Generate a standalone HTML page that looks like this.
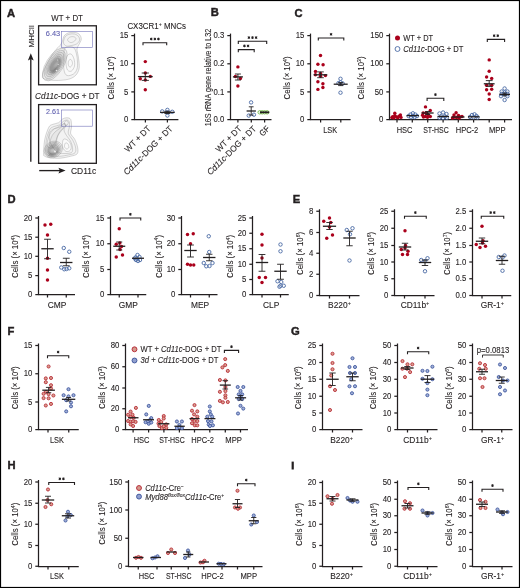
<!DOCTYPE html>
<html><head><meta charset="utf-8"><title>Figure</title>
<style>
html,body{margin:0;padding:0;background:#fff;}
body{width:520px;height:588px;overflow:hidden;}
svg{display:block;will-change:transform;filter:blur(0.3px);font-family:"Liberation Sans",sans-serif;}
text{stroke:#231f20;stroke-width:0.1px;}
</style></head><body>
<svg width="520" height="588" viewBox="0 0 520 588" fill="#231f20">
<rect x="0.5" y="0.5" width="519" height="587" fill="#fff" stroke="#000" stroke-width="1.2"/>
<text x="7.00" y="16.50" font-size="11.2" font-weight="bold" style="stroke-width:0.45px">A</text>
<text x="51.30" y="20.90" font-size="8.4" textLength="31.6" lengthAdjust="spacingAndGlyphs">WT + DT</text>
<rect x="38.6" y="25.8" width="57.75" height="59.0" fill="none" stroke="#231f20" stroke-width="1.3"/>
<rect x="38.6" y="104.6" width="57.75" height="58.7" fill="none" stroke="#231f20" stroke-width="1.3"/>
<text x="67.30" y="98.80" font-size="8.4" text-anchor="middle" textLength="64.5" lengthAdjust="spacingAndGlyphs"><tspan font-style="italic">Cd11c</tspan>-DOG + DT</text>
<defs><filter id="bl" x="-10%" y="-10%" width="120%" height="120%"><feGaussianBlur stdDeviation="0.4"/></filter><filter id="bl2" x="-30%" y="-30%" width="160%" height="160%"><feGaussianBlur stdDeviation="0.9"/></filter></defs>
<g filter="url(#bl)">
<path d="M42.40 77.00C42.23 75.67 42.65 73.33 43.50 71.00C44.35 68.67 46.08 65.67 47.50 63.00C48.92 60.33 50.58 57.25 52.00 55.00C53.42 52.75 54.67 51.08 56.00 49.50C57.33 47.92 58.92 46.92 60.00 45.50C61.08 44.08 61.83 42.58 62.50 41.00C63.17 39.42 63.08 37.33 64.00 36.00C64.92 34.67 66.33 33.62 68.00 33.00C69.67 32.38 72.17 32.13 74.00 32.30C75.83 32.47 77.78 32.88 79.00 34.00C80.22 35.12 81.30 37.25 81.30 39.00C81.30 40.75 79.72 42.83 79.00 44.50C78.28 46.17 77.17 47.25 77.00 49.00C76.83 50.75 77.67 52.83 78.00 55.00C78.33 57.17 78.83 59.67 79.00 62.00C79.17 64.33 79.50 66.83 79.00 69.00C78.50 71.17 77.50 73.37 76.00 75.00C74.50 76.63 72.50 77.92 70.00 78.80C67.50 79.68 64.17 80.07 61.00 80.30C57.83 80.53 53.75 80.42 51.00 80.20C48.25 79.98 45.93 79.53 44.50 79.00C43.07 78.47 42.57 78.33 42.40 77.00Z" fill="#f3f3f3" stroke="#8a8a8a" stroke-width="0.45" stroke-opacity="0.75"/>
<path d="M63.50 43.00C63.25 41.50 64.08 38.45 65.00 37.00C65.92 35.55 67.42 34.80 69.00 34.30C70.58 33.80 72.92 33.63 74.50 34.00C76.08 34.37 77.67 35.42 78.50 36.50C79.33 37.58 79.83 39.25 79.50 40.50C79.17 41.75 77.83 43.17 76.50 44.00C75.17 44.83 73.17 45.17 71.50 45.50C69.83 45.83 67.83 46.42 66.50 46.00C65.17 45.58 63.75 44.50 63.50 43.00Z" fill="none" stroke="#8a8a8a" stroke-width="0.45" stroke-opacity="0.75"/>
<path d="M67.50 40.00C67.42 39.08 68.92 37.53 70.00 37.00C71.08 36.47 73.00 36.50 74.00 36.80C75.00 37.10 76.00 38.02 76.00 38.80C76.00 39.58 74.92 40.88 74.00 41.50C73.08 42.12 71.58 42.75 70.50 42.50C69.42 42.25 67.58 40.92 67.50 40.00Z" fill="none" stroke="#8a8a8a" stroke-width="0.45" stroke-opacity="0.75"/>
<path d="M64.50 49.00C65.33 47.08 67.42 46.67 69.00 46.50C70.58 46.33 72.75 46.75 74.00 48.00C75.25 49.25 75.92 51.67 76.50 54.00C77.08 56.33 77.42 59.50 77.50 62.00C77.58 64.50 77.67 67.00 77.00 69.00C76.33 71.00 75.17 72.92 73.50 74.00C71.83 75.08 68.58 76.17 67.00 75.50C65.42 74.83 64.50 72.92 64.00 70.00C63.50 67.08 63.92 61.50 64.00 58.00C64.08 54.50 63.67 50.92 64.50 49.00Z" fill="#f9f9f9" stroke="#8a8a8a" stroke-width="0.45" stroke-opacity="0.75"/>
<path d="M67.00 56.00C67.83 54.50 69.83 53.50 71.00 54.00C72.17 54.50 73.42 57.00 74.00 59.00C74.58 61.00 74.92 64.00 74.50 66.00C74.08 68.00 72.67 70.33 71.50 71.00C70.33 71.67 68.42 71.33 67.50 70.00C66.58 68.67 66.08 65.33 66.00 63.00C65.92 60.67 66.17 57.50 67.00 56.00Z" fill="none" stroke="#8a8a8a" stroke-width="0.45" stroke-opacity="0.75"/>
<path d="M68.50 61.00C68.92 60.00 70.33 59.08 71.00 59.50C71.67 59.92 72.58 62.25 72.50 63.50C72.42 64.75 71.17 66.67 70.50 67.00C69.83 67.33 68.83 66.50 68.50 65.50C68.17 64.50 68.08 62.00 68.50 61.00Z" fill="none" stroke="#8a8a8a" stroke-width="0.45" stroke-opacity="0.75"/>
<ellipse cx="54.8" cy="64.5" rx="18.5" ry="8.6" transform="rotate(-58 54.8 64.5)" fill="rgba(0,0,0,0.03)" stroke="#8a8a8a" stroke-width="0.45" stroke-opacity="0.75"/>
<ellipse cx="54.8" cy="64.5" rx="16.2" ry="7.4" transform="rotate(-58 54.8 64.5)" fill="rgba(0,0,0,0.035)" stroke="#8a8a8a" stroke-width="0.45" stroke-opacity="0.75"/>
<ellipse cx="54.8" cy="64.5" rx="14" ry="6.2" transform="rotate(-58 54.8 64.5)" fill="rgba(0,0,0,0.04)" stroke="#8a8a8a" stroke-width="0.45" stroke-opacity="0.75"/>
<ellipse cx="54.8" cy="64.5" rx="11.8" ry="5.1" transform="rotate(-58 54.8 64.5)" fill="rgba(0,0,0,0.05)" stroke="#8a8a8a" stroke-width="0.45" stroke-opacity="0.75"/>
<ellipse cx="54.8" cy="64.5" rx="9.6" ry="4.1" transform="rotate(-58 54.8 64.5)" fill="rgba(0,0,0,0.06)" stroke="#8a8a8a" stroke-width="0.45" stroke-opacity="0.75"/>
<ellipse cx="54.8" cy="64.5" rx="7.6" ry="3.2" transform="rotate(-58 54.8 64.5)" fill="rgba(0,0,0,0.07)" stroke="#8a8a8a" stroke-width="0.45" stroke-opacity="0.75"/>
<ellipse cx="55.5" cy="66" rx="7.5" ry="3.0" transform="rotate(-58 55.5 66)" fill="none" stroke="#6a6a6a" stroke-width="1.3" opacity="0.75" filter="url(#bl2)"/>
<ellipse cx="54.5" cy="70" rx="3.5" ry="2" transform="rotate(-60 54.5 70)" fill="rgba(0,0,0,0.18)" filter="url(#bl2)"/>
<circle cx="56.5" cy="70.5" r="0.8" fill="#fff" opacity="0.8"/><circle cx="58.2" cy="64.5" r="0.6" fill="#fff" opacity="0.7"/><circle cx="57.6" cy="60" r="0.6" fill="#fff" opacity="0.6"/>
</g>
<g filter="url(#bl)">
<path d="M43.60 153.80C43.60 150.97 43.92 143.65 44.80 139.20C45.68 134.75 47.55 129.58 48.90 127.10C50.25 124.62 51.28 125.03 52.90 124.30C54.52 123.57 56.98 123.58 58.60 122.70C60.22 121.82 61.25 119.82 62.60 119.00C63.95 118.18 65.35 117.73 66.70 117.80C68.05 117.87 69.90 117.85 70.70 119.40C71.50 120.95 71.50 124.73 71.50 127.10C71.50 129.47 70.17 131.58 70.70 133.60C71.23 135.62 73.55 136.92 74.70 139.20C75.85 141.48 77.18 144.87 77.60 147.30C78.02 149.73 78.35 152.32 77.20 153.80C76.05 155.28 73.53 155.47 70.70 156.20C67.87 156.93 63.70 157.93 60.20 158.20C56.70 158.47 52.27 158.13 49.70 157.80C47.13 157.47 45.82 156.87 44.80 156.20C43.78 155.53 43.60 156.63 43.60 153.80Z" fill="#f3f3f3" stroke="#8a8a8a" stroke-width="0.45" stroke-opacity="0.75"/>
<path d="M45.80 152.50C45.72 150.03 45.63 143.83 46.30 140.00C46.97 136.17 48.52 131.75 49.80 129.50C51.08 127.25 52.42 127.25 54.00 126.50C55.58 125.75 57.77 125.83 59.30 125.00C60.83 124.17 61.95 122.33 63.20 121.50C64.45 120.67 65.80 119.95 66.80 120.00C67.80 120.05 68.78 120.63 69.20 121.80C69.62 122.97 69.45 125.05 69.30 127.00C69.15 128.95 67.77 131.37 68.30 133.50C68.83 135.63 71.30 137.55 72.50 139.80C73.70 142.05 75.08 144.83 75.50 147.00C75.92 149.17 76.08 151.50 75.00 152.80C73.92 154.10 71.50 154.22 69.00 154.80C66.50 155.38 63.08 156.08 60.00 156.30C56.92 156.52 52.70 156.35 50.50 156.10C48.30 155.85 47.58 155.40 46.80 154.80C46.02 154.20 45.88 154.97 45.80 152.50Z" fill="none" stroke="#8a8a8a" stroke-width="0.45" stroke-opacity="0.75"/>
<path d="M50.50 131.00C51.42 129.75 52.92 129.13 54.50 128.50C56.08 127.87 58.50 127.95 60.00 127.20C61.50 126.45 62.53 124.28 63.50 124.00C64.47 123.72 65.72 124.50 65.80 125.50C65.88 126.50 63.88 128.33 64.00 130.00C64.12 131.67 65.42 133.67 66.50 135.50C67.58 137.33 69.50 139.00 70.50 141.00C71.50 143.00 72.33 145.58 72.50 147.50C72.67 149.42 72.92 151.50 71.50 152.50C70.08 153.50 66.42 153.58 64.00 153.50C61.58 153.42 59.17 153.58 57.00 152.00C54.83 150.42 52.33 146.67 51.00 144.00C49.67 141.33 49.08 138.17 49.00 136.00C48.92 133.83 49.58 132.25 50.50 131.00Z" fill="none" stroke="#8a8a8a" stroke-width="0.45" stroke-opacity="0.75"/>
<path d="M64.50 122.50C64.72 121.75 65.87 120.85 66.50 120.80C67.13 120.75 68.17 121.50 68.30 122.20C68.43 122.90 67.82 124.48 67.30 125.00C66.78 125.52 65.67 125.72 65.20 125.30C64.73 124.88 64.28 123.25 64.50 122.50Z" fill="none" stroke="#8a8a8a" stroke-width="0.45" stroke-opacity="0.75"/>
<path d="M64.00 139.00C64.92 138.67 66.83 139.50 68.00 140.50C69.17 141.50 70.58 143.42 71.00 145.00C71.42 146.58 71.25 148.92 70.50 150.00C69.75 151.08 67.75 151.83 66.50 151.50C65.25 151.17 63.67 149.50 63.00 148.00C62.33 146.50 62.33 144.00 62.50 142.50C62.67 141.00 63.08 139.33 64.00 139.00Z" fill="#fafafa" stroke="#8a8a8a" stroke-width="0.45" stroke-opacity="0.75"/>
<path d="M65.50 143.00C66.08 142.58 67.45 143.25 68.00 144.00C68.55 144.75 69.05 146.67 68.80 147.50C68.55 148.33 67.22 149.17 66.50 149.00C65.78 148.83 64.67 147.50 64.50 146.50C64.33 145.50 64.92 143.42 65.50 143.00Z" fill="none" stroke="#8a8a8a" stroke-width="0.45" stroke-opacity="0.75"/>
<path d="M47.00 146.00C46.50 144.00 48.00 138.67 49.00 136.00C50.00 133.33 51.50 131.50 53.00 130.00C54.50 128.50 56.50 127.92 58.00 127.00C59.50 126.08 60.92 125.08 62.00 124.50C63.08 123.92 63.83 123.42 64.50 123.50C65.17 123.58 66.25 124.08 66.00 125.00C65.75 125.92 64.08 127.67 63.00 129.00C61.92 130.33 60.50 131.50 59.50 133.00C58.50 134.50 57.58 136.17 57.00 138.00C56.42 139.83 56.83 142.33 56.00 144.00C55.17 145.67 53.50 147.67 52.00 148.00C50.50 148.33 47.50 148.00 47.00 146.00Z" fill="rgba(0,0,0,0.025)" stroke="#8a8a8a" stroke-width="0.45" stroke-opacity="0.75"/>
<path d="M49.50 145.00C49.33 143.50 50.58 139.17 51.50 137.00C52.42 134.83 53.75 133.33 55.00 132.00C56.25 130.67 57.75 129.92 59.00 129.00C60.25 128.08 61.75 126.75 62.50 126.50C63.25 126.25 63.92 126.67 63.50 127.50C63.08 128.33 61.00 130.08 60.00 131.50C59.00 132.92 58.25 134.25 57.50 136.00C56.75 137.75 56.33 140.33 55.50 142.00C54.67 143.67 53.50 145.50 52.50 146.00C51.50 146.50 49.67 146.50 49.50 145.00Z" fill="rgba(0,0,0,0.025)" stroke="#8a8a8a" stroke-width="0.45" stroke-opacity="0.75"/>
<ellipse cx="53.3" cy="149.5" rx="9.5" ry="8.0" transform="rotate(-30 53.3 149.5)" fill="rgba(0,0,0,0.03)" stroke="#8a8a8a" stroke-width="0.45" stroke-opacity="0.75"/>
<ellipse cx="53.3" cy="149.5" rx="8.0" ry="6.8" transform="rotate(-30 53.3 149.5)" fill="rgba(0,0,0,0.04)" stroke="#8a8a8a" stroke-width="0.45" stroke-opacity="0.75"/>
<ellipse cx="53.3" cy="149.5" rx="6.6" ry="5.6" transform="rotate(-30 53.3 149.5)" fill="rgba(0,0,0,0.05)" stroke="#8a8a8a" stroke-width="0.45" stroke-opacity="0.75"/>
<ellipse cx="53.3" cy="149.5" rx="5.3" ry="4.5" transform="rotate(-30 53.3 149.5)" fill="rgba(0,0,0,0.06)" stroke="#8a8a8a" stroke-width="0.45" stroke-opacity="0.75"/>
<ellipse cx="53.2" cy="151" rx="4.6" ry="3.6" transform="rotate(-25 53.2 151)" fill="none" stroke="#5e5e5e" stroke-width="1.4" opacity="0.7" filter="url(#bl2)"/>
<ellipse cx="51.5" cy="154" rx="3.5" ry="1.6" transform="rotate(-20 51.5 154)" fill="rgba(0,0,0,0.2)" filter="url(#bl2)"/>
<circle cx="55" cy="151.5" r="0.9" fill="#fff" opacity="0.8"/>
</g>
<rect x="61.5" y="31.3" width="31.1" height="16.3" fill="none" stroke="#5c5cae" stroke-width="0.6" opacity="0.85"/>
<rect x="61.5" y="110.0" width="31.1" height="16.2" fill="none" stroke="#5c5cae" stroke-width="0.6" opacity="0.85"/>
<text x="45.80" y="35.50" font-size="8.0" fill="#5c5cae" textLength="14.4" lengthAdjust="spacingAndGlyphs" style="stroke:#5c5cae">6.43</text>
<text x="46.00" y="114.00" font-size="8.0" fill="#5c5cae" textLength="14.0" lengthAdjust="spacingAndGlyphs" style="stroke:#5c5cae">2.61</text>
<line x1="30.80" y1="58.00" x2="30.80" y2="161.70" stroke="#231f20" stroke-width="1.35"/>
<path d="M30.8 53.2 L33.7 60.4 L30.8 59.0 L27.9 60.4 Z" fill="#231f20"/>
<line x1="39.20" y1="170.60" x2="61.00" y2="170.60" stroke="#231f20" stroke-width="1.35"/>
<path d="M65.6 170.6 L58.4 167.7 L59.8 170.6 L58.4 173.5 Z" fill="#231f20"/>
<text x="33.80" y="36.20" font-size="7.8" text-anchor="middle" textLength="22.5" lengthAdjust="spacingAndGlyphs" transform="rotate(-90 33.80 36.20)">MHCII</text>
<text x="71.00" y="174.30" font-size="8.4" textLength="25.2" lengthAdjust="spacingAndGlyphs">CD11c</text>
<text x="127.40" y="29.10" font-size="8.6" textLength="58.6" lengthAdjust="spacingAndGlyphs">CX3CR1<tspan dy="-3.0" font-size="5.6">+</tspan><tspan dy="3.0"> MNCs</tspan></text>
<line x1="134.50" y1="33.60" x2="134.50" y2="120.12" stroke="#231f20" stroke-width="1.25"/>
<line x1="131.30" y1="35.60" x2="134.50" y2="35.60" stroke="#231f20" stroke-width="1.25"/>
<text x="128.35" y="38.20" font-size="8.4" text-anchor="end" textLength="8.7" lengthAdjust="spacingAndGlyphs">15</text>
<line x1="131.30" y1="63.70" x2="134.50" y2="63.70" stroke="#231f20" stroke-width="1.25"/>
<text x="128.35" y="66.30" font-size="8.4" text-anchor="end" textLength="8.7" lengthAdjust="spacingAndGlyphs">10</text>
<line x1="131.30" y1="91.90" x2="134.50" y2="91.90" stroke="#231f20" stroke-width="1.25"/>
<text x="128.35" y="94.50" font-size="8.4" text-anchor="end" textLength="4.35" lengthAdjust="spacingAndGlyphs">5</text>
<line x1="131.30" y1="119.60" x2="134.50" y2="119.60" stroke="#231f20" stroke-width="1.25"/>
<text x="128.35" y="122.20" font-size="8.4" text-anchor="end" textLength="4.35" lengthAdjust="spacingAndGlyphs">0</text>
<line x1="134.50" y1="119.50" x2="178.40" y2="119.50" stroke="#231f20" stroke-width="1.25"/>
<line x1="145.40" y1="119.50" x2="145.40" y2="122.50" stroke="#231f20" stroke-width="1.25"/>
<line x1="167.40" y1="119.50" x2="167.40" y2="122.50" stroke="#231f20" stroke-width="1.25"/>
<path d="M143.00 45.30V42.70H166.70V45.30" fill="none" stroke="#231f20" stroke-width="1.1"/>
<path d="M151.25 37.65L151.25 40.35M152.42 38.33L150.08 39.67M152.42 39.67L150.08 38.33" stroke="#231f20" stroke-width="0.9" fill="none"/>
<circle cx="151.25" cy="39.00" r="0.85" fill="#231f20"/>
<path d="M154.85 37.65L154.85 40.35M156.02 38.33L153.68 39.67M156.02 39.67L153.68 38.33" stroke="#231f20" stroke-width="0.9" fill="none"/>
<circle cx="154.85" cy="39.00" r="0.85" fill="#231f20"/>
<path d="M158.45 37.65L158.45 40.35M159.62 38.33L157.28 39.67M159.62 39.67L157.28 38.33" stroke="#231f20" stroke-width="0.9" fill="none"/>
<circle cx="158.45" cy="39.00" r="0.85" fill="#231f20"/>
<circle cx="145.30" cy="61.60" r="1.72" fill="#aa001b"/>
<circle cx="145.30" cy="73.00" r="1.72" fill="#aa001b"/>
<circle cx="150.30" cy="76.40" r="1.72" fill="#aa001b"/>
<circle cx="140.30" cy="78.80" r="1.72" fill="#aa001b"/>
<circle cx="145.30" cy="80.00" r="1.72" fill="#aa001b"/>
<circle cx="145.30" cy="89.80" r="1.72" fill="#aa001b"/>
<line x1="137.90" y1="76.60" x2="152.70" y2="76.60" stroke="#231f20" stroke-width="1.3"/>
<line x1="145.30" y1="73.00" x2="145.30" y2="80.40" stroke="#231f20" stroke-width="0.9"/>
<line x1="141.70" y1="73.00" x2="148.90" y2="73.00" stroke="#231f20" stroke-width="0.9"/>
<line x1="141.70" y1="80.40" x2="148.90" y2="80.40" stroke="#231f20" stroke-width="0.9"/>
<circle cx="162.20" cy="111.40" r="1.72" fill="none" stroke="#4869a4" stroke-width="0.9"/>
<circle cx="167.40" cy="109.90" r="1.72" fill="none" stroke="#4869a4" stroke-width="0.9"/>
<circle cx="172.30" cy="111.80" r="1.72" fill="none" stroke="#4869a4" stroke-width="0.9"/>
<circle cx="167.40" cy="115.50" r="1.72" fill="none" stroke="#4869a4" stroke-width="0.9"/>
<circle cx="167.40" cy="112.40" r="1.72" fill="none" stroke="#4869a4" stroke-width="0.9"/>
<line x1="160.10" y1="112.40" x2="174.70" y2="112.40" stroke="#231f20" stroke-width="1.3"/>
<line x1="167.40" y1="111.30" x2="167.40" y2="113.50" stroke="#231f20" stroke-width="0.9"/>
<line x1="164.40" y1="111.30" x2="170.40" y2="111.30" stroke="#231f20" stroke-width="0.9"/>
<line x1="164.40" y1="113.50" x2="170.40" y2="113.50" stroke="#231f20" stroke-width="0.9"/>
<text x="114.20" y="78.00" font-size="9.2" text-anchor="middle" textLength="43.0" lengthAdjust="spacingAndGlyphs" transform="rotate(-90 114.20 78.00)">Cells (× 10<tspan dy="-3.2" font-size="6">4</tspan><tspan dy="3.2">)</tspan></text>
<text x="151.30" y="129.30" font-size="8.6" text-anchor="end" textLength="33.0" lengthAdjust="spacingAndGlyphs" transform="rotate(-45 151.30 129.30)">WT + DT</text>
<text x="173.30" y="129.30" font-size="8.6" text-anchor="end" textLength="65.5" lengthAdjust="spacingAndGlyphs" transform="rotate(-45 173.30 129.30)"><tspan font-style="italic">Cd11c</tspan>-DOG + DT</text>
<text x="210.80" y="16.10" font-size="11.2" font-weight="bold" style="stroke-width:0.45px">B</text>
<line x1="230.50" y1="33.60" x2="230.50" y2="120.12" stroke="#231f20" stroke-width="1.25"/>
<line x1="227.30" y1="35.60" x2="230.50" y2="35.60" stroke="#231f20" stroke-width="1.25"/>
<text x="224.35" y="38.20" font-size="8.4" text-anchor="end" textLength="10.799999999999999" lengthAdjust="spacingAndGlyphs">0.3</text>
<line x1="227.30" y1="63.80" x2="230.50" y2="63.80" stroke="#231f20" stroke-width="1.25"/>
<text x="224.35" y="66.40" font-size="8.4" text-anchor="end" textLength="10.799999999999999" lengthAdjust="spacingAndGlyphs">0.2</text>
<line x1="227.30" y1="91.90" x2="230.50" y2="91.90" stroke="#231f20" stroke-width="1.25"/>
<text x="224.35" y="94.50" font-size="8.4" text-anchor="end" textLength="10.799999999999999" lengthAdjust="spacingAndGlyphs">0.1</text>
<line x1="227.30" y1="119.60" x2="230.50" y2="119.60" stroke="#231f20" stroke-width="1.25"/>
<text x="224.35" y="122.20" font-size="8.4" text-anchor="end" textLength="10.799999999999999" lengthAdjust="spacingAndGlyphs">0.0</text>
<line x1="230.50" y1="119.50" x2="271.50" y2="119.50" stroke="#231f20" stroke-width="1.25"/>
<line x1="237.90" y1="119.50" x2="237.90" y2="122.50" stroke="#231f20" stroke-width="1.25"/>
<line x1="251.30" y1="119.50" x2="251.30" y2="122.50" stroke="#231f20" stroke-width="1.25"/>
<line x1="264.60" y1="119.50" x2="264.60" y2="122.50" stroke="#231f20" stroke-width="1.25"/>
<path d="M238.30 43.90V41.30H266.70V43.90" fill="none" stroke="#231f20" stroke-width="1.1"/>
<path d="M248.90 36.25L248.90 38.95M250.07 36.92L247.73 38.27M250.07 38.27L247.73 36.92" stroke="#231f20" stroke-width="0.9" fill="none"/>
<circle cx="248.90" cy="37.60" r="0.85" fill="#231f20"/>
<path d="M252.50 36.25L252.50 38.95M253.67 36.92L251.33 38.27M253.67 38.27L251.33 36.92" stroke="#231f20" stroke-width="0.9" fill="none"/>
<circle cx="252.50" cy="37.60" r="0.85" fill="#231f20"/>
<path d="M256.10 36.25L256.10 38.95M257.27 36.92L254.93 38.27M257.27 38.27L254.93 36.92" stroke="#231f20" stroke-width="0.9" fill="none"/>
<circle cx="256.10" cy="37.60" r="0.85" fill="#231f20"/>
<path d="M238.30 52.20V49.60H254.20V52.20" fill="none" stroke="#231f20" stroke-width="1.1"/>
<path d="M244.45 44.55L244.45 47.25M245.62 45.23L243.28 46.57M245.62 46.57L243.28 45.23" stroke="#231f20" stroke-width="0.9" fill="none"/>
<circle cx="244.45" cy="45.90" r="0.85" fill="#231f20"/>
<path d="M248.05 44.55L248.05 47.25M249.22 45.23L246.88 46.57M249.22 46.57L246.88 45.23" stroke="#231f20" stroke-width="0.9" fill="none"/>
<circle cx="248.05" cy="45.90" r="0.85" fill="#231f20"/>
<circle cx="237.90" cy="66.90" r="1.72" fill="#aa001b"/>
<circle cx="235.40" cy="76.50" r="1.72" fill="#aa001b"/>
<circle cx="240.40" cy="78.50" r="1.72" fill="#aa001b"/>
<circle cx="237.90" cy="86.00" r="1.72" fill="#aa001b"/>
<line x1="232.90" y1="76.90" x2="242.90" y2="76.90" stroke="#231f20" stroke-width="1.3"/>
<line x1="237.90" y1="74.00" x2="237.90" y2="80.00" stroke="#231f20" stroke-width="0.9"/>
<line x1="234.90" y1="74.00" x2="240.90" y2="74.00" stroke="#231f20" stroke-width="0.9"/>
<line x1="234.90" y1="80.00" x2="240.90" y2="80.00" stroke="#231f20" stroke-width="0.9"/>
<circle cx="251.10" cy="102.40" r="1.72" fill="none" stroke="#4869a4" stroke-width="0.9"/>
<circle cx="248.75" cy="115.60" r="1.72" fill="none" stroke="#4869a4" stroke-width="0.9"/>
<circle cx="253.90" cy="114.70" r="1.72" fill="none" stroke="#4869a4" stroke-width="0.9"/>
<line x1="246.60" y1="111.00" x2="255.80" y2="111.00" stroke="#231f20" stroke-width="1.3"/>
<line x1="251.20" y1="106.80" x2="251.20" y2="115.10" stroke="#231f20" stroke-width="0.9"/>
<line x1="248.80" y1="106.80" x2="253.60" y2="106.80" stroke="#231f20" stroke-width="0.9"/>
<line x1="248.80" y1="115.10" x2="253.60" y2="115.10" stroke="#231f20" stroke-width="0.9"/>
<circle cx="259.70" cy="112.30" r="1.72" fill="none" stroke="#72b843" stroke-width="0.9"/>
<circle cx="262.20" cy="112.30" r="1.72" fill="none" stroke="#72b843" stroke-width="0.9"/>
<circle cx="264.60" cy="112.30" r="1.72" fill="none" stroke="#72b843" stroke-width="0.9"/>
<circle cx="267.20" cy="112.30" r="1.72" fill="none" stroke="#72b843" stroke-width="0.9"/>
<line x1="259.90" y1="112.30" x2="269.20" y2="112.30" stroke="#231f20" stroke-width="1.8"/>
<text x="210.9" y="77.4" font-size="8.6" text-anchor="middle" textLength="97.5" lengthAdjust="spacingAndGlyphs" transform="rotate(-90 210.9 77.4)">16S rRNA gene relative to L32</text>
<text x="242.30" y="129.30" font-size="8.6" text-anchor="end" textLength="33.0" lengthAdjust="spacingAndGlyphs" transform="rotate(-45 242.30 129.30)">WT + DT</text>
<text x="256.80" y="129.30" font-size="8.6" text-anchor="end" textLength="65.5" lengthAdjust="spacingAndGlyphs" transform="rotate(-45 256.80 129.30)"><tspan font-style="italic">Cd11c</tspan>-DOG + DT</text>
<text x="270.20" y="129.30" font-size="8.6" text-anchor="end" textLength="10.5" lengthAdjust="spacingAndGlyphs" transform="rotate(-45 270.20 129.30)">GF</text>
<text x="294.60" y="16.70" font-size="11.2" font-weight="bold" style="stroke-width:0.45px">C</text>
<line x1="310.50" y1="33.60" x2="310.50" y2="120.12" stroke="#231f20" stroke-width="1.25"/>
<line x1="307.30" y1="35.60" x2="310.50" y2="35.60" stroke="#231f20" stroke-width="1.25"/>
<text x="304.35" y="38.20" font-size="8.4" text-anchor="end" textLength="8.7" lengthAdjust="spacingAndGlyphs">15</text>
<line x1="307.30" y1="63.80" x2="310.50" y2="63.80" stroke="#231f20" stroke-width="1.25"/>
<text x="304.35" y="66.40" font-size="8.4" text-anchor="end" textLength="8.7" lengthAdjust="spacingAndGlyphs">10</text>
<line x1="307.30" y1="91.90" x2="310.50" y2="91.90" stroke="#231f20" stroke-width="1.25"/>
<text x="304.35" y="94.50" font-size="8.4" text-anchor="end" textLength="4.35" lengthAdjust="spacingAndGlyphs">5</text>
<line x1="307.30" y1="119.60" x2="310.50" y2="119.60" stroke="#231f20" stroke-width="1.25"/>
<text x="304.35" y="122.20" font-size="8.4" text-anchor="end" textLength="4.35" lengthAdjust="spacingAndGlyphs">0</text>
<line x1="310.50" y1="119.50" x2="350.60" y2="119.50" stroke="#231f20" stroke-width="1.25"/>
<line x1="320.60" y1="119.50" x2="320.60" y2="122.50" stroke="#231f20" stroke-width="1.25"/>
<line x1="340.80" y1="119.50" x2="340.80" y2="122.50" stroke="#231f20" stroke-width="1.25"/>
<path d="M318.30 40.60V38.00H343.80V40.60" fill="none" stroke="#231f20" stroke-width="1.1"/>
<path d="M331.05 32.95L331.05 35.65M332.22 33.62L329.88 34.97M332.22 34.97L329.88 33.62" stroke="#231f20" stroke-width="0.9" fill="none"/>
<circle cx="331.05" cy="34.30" r="0.85" fill="#231f20"/>
<circle cx="320.50" cy="55.50" r="1.72" fill="#aa001b"/>
<circle cx="317.90" cy="64.20" r="1.72" fill="#aa001b"/>
<circle cx="323.10" cy="64.80" r="1.72" fill="#aa001b"/>
<circle cx="315.50" cy="71.40" r="1.72" fill="#aa001b"/>
<circle cx="315.40" cy="74.80" r="1.72" fill="#aa001b"/>
<circle cx="320.50" cy="73.50" r="1.72" fill="#aa001b"/>
<circle cx="320.50" cy="76.20" r="1.72" fill="#aa001b"/>
<circle cx="325.40" cy="75.60" r="1.72" fill="#aa001b"/>
<circle cx="317.90" cy="81.70" r="1.72" fill="#aa001b"/>
<circle cx="322.90" cy="83.70" r="1.72" fill="#aa001b"/>
<circle cx="322.90" cy="87.50" r="1.72" fill="#aa001b"/>
<circle cx="317.90" cy="89.40" r="1.72" fill="#aa001b"/>
<line x1="313.70" y1="74.80" x2="327.30" y2="74.80" stroke="#231f20" stroke-width="1.3"/>
<line x1="320.50" y1="71.90" x2="320.50" y2="77.70" stroke="#231f20" stroke-width="0.9"/>
<line x1="317.20" y1="71.90" x2="323.80" y2="71.90" stroke="#231f20" stroke-width="0.9"/>
<line x1="317.20" y1="77.70" x2="323.80" y2="77.70" stroke="#231f20" stroke-width="0.9"/>
<circle cx="340.50" cy="78.80" r="1.72" fill="none" stroke="#4869a4" stroke-width="0.9"/>
<circle cx="338.50" cy="83.10" r="1.72" fill="none" stroke="#4869a4" stroke-width="0.9"/>
<circle cx="340.50" cy="82.30" r="1.72" fill="none" stroke="#4869a4" stroke-width="0.9"/>
<circle cx="342.70" cy="83.50" r="1.72" fill="none" stroke="#4869a4" stroke-width="0.9"/>
<circle cx="340.50" cy="92.70" r="1.72" fill="none" stroke="#4869a4" stroke-width="0.9"/>
<line x1="333.70" y1="84.20" x2="347.70" y2="84.20" stroke="#231f20" stroke-width="1.3"/>
<line x1="340.70" y1="82.60" x2="340.70" y2="85.60" stroke="#231f20" stroke-width="0.9"/>
<line x1="338.20" y1="82.60" x2="343.20" y2="82.60" stroke="#231f20" stroke-width="0.9"/>
<line x1="338.20" y1="85.60" x2="343.20" y2="85.60" stroke="#231f20" stroke-width="0.9"/>
<text x="330.20" y="132.60" font-size="8.4" text-anchor="middle" textLength="14.0" lengthAdjust="spacingAndGlyphs">LSK</text>
<text x="290.00" y="78.00" font-size="9.2" text-anchor="middle" textLength="43.0" lengthAdjust="spacingAndGlyphs" transform="rotate(-90 290.00 78.00)">Cells (× 10<tspan dy="-3.2" font-size="6">4</tspan><tspan dy="3.2">)</tspan></text>
<line x1="389.50" y1="33.60" x2="389.50" y2="120.12" stroke="#231f20" stroke-width="1.25"/>
<line x1="386.30" y1="35.60" x2="389.50" y2="35.60" stroke="#231f20" stroke-width="1.25"/>
<text x="383.35" y="38.20" font-size="8.4" text-anchor="end" textLength="13.049999999999999" lengthAdjust="spacingAndGlyphs">150</text>
<line x1="386.30" y1="63.80" x2="389.50" y2="63.80" stroke="#231f20" stroke-width="1.25"/>
<text x="383.35" y="66.40" font-size="8.4" text-anchor="end" textLength="13.049999999999999" lengthAdjust="spacingAndGlyphs">100</text>
<line x1="386.30" y1="91.90" x2="389.50" y2="91.90" stroke="#231f20" stroke-width="1.25"/>
<text x="383.35" y="94.50" font-size="8.4" text-anchor="end" textLength="8.7" lengthAdjust="spacingAndGlyphs">50</text>
<line x1="386.30" y1="119.60" x2="389.50" y2="119.60" stroke="#231f20" stroke-width="1.25"/>
<text x="383.35" y="122.20" font-size="8.4" text-anchor="end" textLength="4.35" lengthAdjust="spacingAndGlyphs">0</text>
<line x1="389.50" y1="119.50" x2="512.00" y2="119.50" stroke="#231f20" stroke-width="1.25"/>
<line x1="397.00" y1="119.50" x2="397.00" y2="122.50" stroke="#231f20" stroke-width="1.25"/>
<line x1="412.30" y1="119.50" x2="412.30" y2="122.50" stroke="#231f20" stroke-width="1.25"/>
<line x1="427.70" y1="119.50" x2="427.70" y2="122.50" stroke="#231f20" stroke-width="1.25"/>
<line x1="443.10" y1="119.50" x2="443.10" y2="122.50" stroke="#231f20" stroke-width="1.25"/>
<line x1="458.30" y1="119.50" x2="458.30" y2="122.50" stroke="#231f20" stroke-width="1.25"/>
<line x1="473.60" y1="119.50" x2="473.60" y2="122.50" stroke="#231f20" stroke-width="1.25"/>
<line x1="489.20" y1="119.50" x2="489.20" y2="122.50" stroke="#231f20" stroke-width="1.25"/>
<line x1="504.60" y1="119.50" x2="504.60" y2="122.50" stroke="#231f20" stroke-width="1.25"/>
<text x="404.60" y="132.60" font-size="8.4" text-anchor="middle" textLength="15.8" lengthAdjust="spacingAndGlyphs">HSC</text>
<text x="436.00" y="132.60" font-size="8.4" text-anchor="middle" textLength="25.6" lengthAdjust="spacingAndGlyphs">ST-HSC</text>
<text x="467.00" y="132.60" font-size="8.4" text-anchor="middle" textLength="22.6" lengthAdjust="spacingAndGlyphs">HPC-2</text>
<text x="497.20" y="132.60" font-size="8.4" text-anchor="middle" textLength="16.6" lengthAdjust="spacingAndGlyphs">MPP</text>
<text x="364.40" y="78.00" font-size="9.2" text-anchor="middle" textLength="43.0" lengthAdjust="spacingAndGlyphs" transform="rotate(-90 364.40 78.00)">Cells (× 10<tspan dy="-3.2" font-size="6">3</tspan><tspan dy="3.2">)</tspan></text>
<circle cx="397.5" cy="37.9" r="2.5" fill="#aa001b"/>
<circle cx="397.5" cy="49.0" r="2.45" fill="none" stroke="#4869a4" stroke-width="0.9"/>
<text x="403.30" y="40.60" font-size="8.4" textLength="29.8" lengthAdjust="spacingAndGlyphs">WT + DT</text>
<text x="403.30" y="51.60" font-size="8.4" textLength="60.2" lengthAdjust="spacingAndGlyphs"><tspan font-style="italic">Cd11c</tspan>-DOG + DT</text>
<path d="M427.10 100.90V98.30H443.80V100.90" fill="none" stroke="#231f20" stroke-width="1.1"/>
<path d="M435.45 93.25L435.45 95.95M436.62 93.92L434.28 95.27M436.62 95.27L434.28 93.92" stroke="#231f20" stroke-width="0.9" fill="none"/>
<circle cx="435.45" cy="94.60" r="0.85" fill="#231f20"/>
<path d="M487.30 42.00V39.40H504.60V42.00" fill="none" stroke="#231f20" stroke-width="1.1"/>
<path d="M494.15 34.35L494.15 37.05M495.32 35.02L492.98 36.37M495.32 36.37L492.98 35.02" stroke="#231f20" stroke-width="0.9" fill="none"/>
<circle cx="494.15" cy="35.70" r="0.85" fill="#231f20"/>
<path d="M497.75 34.35L497.75 37.05M498.92 35.02L496.58 36.37M498.92 36.37L496.58 35.02" stroke="#231f20" stroke-width="0.9" fill="none"/>
<circle cx="497.75" cy="35.70" r="0.85" fill="#231f20"/>
<circle cx="394.80" cy="113.30" r="1.72" fill="#aa001b"/>
<circle cx="394.80" cy="115.60" r="1.72" fill="#aa001b"/>
<circle cx="392.60" cy="116.80" r="1.72" fill="#aa001b"/>
<circle cx="396.60" cy="117.00" r="1.72" fill="#aa001b"/>
<circle cx="391.80" cy="117.60" r="1.72" fill="#aa001b"/>
<circle cx="399.00" cy="116.20" r="1.72" fill="#aa001b"/>
<circle cx="400.40" cy="114.90" r="1.72" fill="#aa001b"/>
<circle cx="401.00" cy="117.40" r="1.72" fill="#aa001b"/>
<circle cx="397.80" cy="117.80" r="1.72" fill="#aa001b"/>
<circle cx="393.80" cy="118.00" r="1.72" fill="#aa001b"/>
<circle cx="412.90" cy="113.30" r="1.72" fill="none" stroke="#4869a4" stroke-width="0.9"/>
<circle cx="410.40" cy="114.60" r="1.72" fill="none" stroke="#4869a4" stroke-width="0.9"/>
<circle cx="415.40" cy="114.60" r="1.72" fill="none" stroke="#4869a4" stroke-width="0.9"/>
<circle cx="408.60" cy="116.10" r="1.72" fill="none" stroke="#4869a4" stroke-width="0.9"/>
<circle cx="417.00" cy="116.10" r="1.72" fill="none" stroke="#4869a4" stroke-width="0.9"/>
<circle cx="411.00" cy="117.20" r="1.72" fill="none" stroke="#4869a4" stroke-width="0.9"/>
<circle cx="414.60" cy="117.20" r="1.72" fill="none" stroke="#4869a4" stroke-width="0.9"/>
<circle cx="412.90" cy="115.80" r="1.72" fill="none" stroke="#4869a4" stroke-width="0.9"/>
<line x1="406.60" y1="115.60" x2="419.00" y2="115.60" stroke="#231f20" stroke-width="1.3"/>
<circle cx="425.50" cy="106.90" r="1.72" fill="#aa001b"/>
<circle cx="423.20" cy="112.90" r="1.72" fill="#aa001b"/>
<circle cx="426.10" cy="112.90" r="1.72" fill="#aa001b"/>
<circle cx="430.30" cy="110.50" r="1.72" fill="#aa001b"/>
<circle cx="430.30" cy="116.50" r="1.72" fill="#aa001b"/>
<circle cx="422.60" cy="115.30" r="1.72" fill="#aa001b"/>
<circle cx="425.50" cy="116.50" r="1.72" fill="#aa001b"/>
<circle cx="428.00" cy="114.50" r="1.72" fill="#aa001b"/>
<circle cx="427.50" cy="117.30" r="1.72" fill="#aa001b"/>
<circle cx="423.50" cy="117.00" r="1.72" fill="#aa001b"/>
<line x1="421.60" y1="113.00" x2="433.60" y2="113.00" stroke="#231f20" stroke-width="1.3"/>
<line x1="427.60" y1="111.50" x2="427.60" y2="114.50" stroke="#231f20" stroke-width="0.9"/>
<line x1="425.10" y1="111.50" x2="430.10" y2="111.50" stroke="#231f20" stroke-width="0.9"/>
<line x1="425.10" y1="114.50" x2="430.10" y2="114.50" stroke="#231f20" stroke-width="0.9"/>
<circle cx="439.50" cy="113.50" r="1.72" fill="none" stroke="#4869a4" stroke-width="0.9"/>
<circle cx="443.10" cy="112.50" r="1.72" fill="none" stroke="#4869a4" stroke-width="0.9"/>
<circle cx="446.50" cy="114.00" r="1.72" fill="none" stroke="#4869a4" stroke-width="0.9"/>
<circle cx="441.00" cy="116.50" r="1.72" fill="none" stroke="#4869a4" stroke-width="0.9"/>
<circle cx="445.00" cy="116.50" r="1.72" fill="none" stroke="#4869a4" stroke-width="0.9"/>
<circle cx="443.10" cy="118.00" r="1.72" fill="none" stroke="#4869a4" stroke-width="0.9"/>
<circle cx="439.50" cy="117.80" r="1.72" fill="none" stroke="#4869a4" stroke-width="0.9"/>
<circle cx="446.80" cy="117.80" r="1.72" fill="none" stroke="#4869a4" stroke-width="0.9"/>
<line x1="437.50" y1="116.50" x2="449.00" y2="116.50" stroke="#231f20" stroke-width="1.3"/>
<circle cx="456.10" cy="112.80" r="1.72" fill="#aa001b"/>
<circle cx="454.00" cy="115.00" r="1.72" fill="#aa001b"/>
<circle cx="458.50" cy="115.50" r="1.72" fill="#aa001b"/>
<circle cx="453.50" cy="117.50" r="1.72" fill="#aa001b"/>
<circle cx="456.50" cy="117.50" r="1.72" fill="#aa001b"/>
<circle cx="460.00" cy="117.00" r="1.72" fill="#aa001b"/>
<circle cx="462.00" cy="116.50" r="1.72" fill="#aa001b"/>
<circle cx="459.00" cy="118.00" r="1.72" fill="#aa001b"/>
<circle cx="452.50" cy="118.00" r="1.72" fill="#aa001b"/>
<line x1="451.50" y1="117.00" x2="464.50" y2="117.00" stroke="#231f20" stroke-width="1.3"/>
<circle cx="472.00" cy="115.00" r="1.72" fill="none" stroke="#4869a4" stroke-width="0.9"/>
<circle cx="474.50" cy="114.30" r="1.72" fill="none" stroke="#4869a4" stroke-width="0.9"/>
<circle cx="476.50" cy="116.00" r="1.72" fill="none" stroke="#4869a4" stroke-width="0.9"/>
<circle cx="470.00" cy="117.00" r="1.72" fill="none" stroke="#4869a4" stroke-width="0.9"/>
<circle cx="473.50" cy="117.30" r="1.72" fill="none" stroke="#4869a4" stroke-width="0.9"/>
<circle cx="477.50" cy="117.50" r="1.72" fill="none" stroke="#4869a4" stroke-width="0.9"/>
<line x1="468.00" y1="116.80" x2="479.50" y2="116.80" stroke="#231f20" stroke-width="1.3"/>
<circle cx="489.20" cy="59.90" r="1.72" fill="#aa001b"/>
<circle cx="489.20" cy="71.30" r="1.72" fill="#aa001b"/>
<circle cx="486.60" cy="77.00" r="1.72" fill="#aa001b"/>
<circle cx="491.70" cy="78.40" r="1.72" fill="#aa001b"/>
<circle cx="486.60" cy="85.30" r="1.72" fill="#aa001b"/>
<circle cx="491.70" cy="85.30" r="1.72" fill="#aa001b"/>
<circle cx="486.60" cy="89.80" r="1.72" fill="#aa001b"/>
<circle cx="491.70" cy="89.30" r="1.72" fill="#aa001b"/>
<circle cx="489.20" cy="94.00" r="1.72" fill="#aa001b"/>
<circle cx="489.20" cy="99.50" r="1.72" fill="#aa001b"/>
<line x1="483.80" y1="83.80" x2="494.60" y2="83.80" stroke="#231f20" stroke-width="1.3"/>
<line x1="489.20" y1="80.60" x2="489.20" y2="86.40" stroke="#231f20" stroke-width="0.9"/>
<line x1="485.80" y1="80.60" x2="492.60" y2="80.60" stroke="#231f20" stroke-width="0.9"/>
<line x1="485.80" y1="86.40" x2="492.60" y2="86.40" stroke="#231f20" stroke-width="0.9"/>
<circle cx="504.60" cy="88.50" r="1.72" fill="none" stroke="#4869a4" stroke-width="0.9"/>
<circle cx="501.70" cy="91.50" r="1.72" fill="none" stroke="#4869a4" stroke-width="0.9"/>
<circle cx="507.40" cy="91.50" r="1.72" fill="none" stroke="#4869a4" stroke-width="0.9"/>
<circle cx="501.70" cy="94.00" r="1.72" fill="none" stroke="#4869a4" stroke-width="0.9"/>
<circle cx="507.40" cy="94.00" r="1.72" fill="none" stroke="#4869a4" stroke-width="0.9"/>
<circle cx="501.00" cy="96.20" r="1.72" fill="none" stroke="#4869a4" stroke-width="0.9"/>
<circle cx="507.40" cy="96.20" r="1.72" fill="none" stroke="#4869a4" stroke-width="0.9"/>
<circle cx="504.60" cy="100.00" r="1.72" fill="none" stroke="#4869a4" stroke-width="0.9"/>
<circle cx="504.60" cy="94.40" r="1.72" fill="none" stroke="#4869a4" stroke-width="0.9"/>
<circle cx="504.60" cy="92.50" r="1.72" fill="none" stroke="#4869a4" stroke-width="0.9"/>
<line x1="499.40" y1="94.40" x2="510.00" y2="94.40" stroke="#231f20" stroke-width="1.3"/>
<line x1="504.70" y1="93.00" x2="504.70" y2="95.80" stroke="#231f20" stroke-width="0.9"/>
<line x1="502.70" y1="93.00" x2="506.70" y2="93.00" stroke="#231f20" stroke-width="0.9"/>
<line x1="502.70" y1="95.80" x2="506.70" y2="95.80" stroke="#231f20" stroke-width="0.9"/>
<text x="7.60" y="202.80" font-size="11.2" font-weight="bold" style="stroke-width:0.45px">D</text>
<line x1="38.50" y1="216.00" x2="38.50" y2="295.12" stroke="#231f20" stroke-width="1.25"/>
<line x1="35.30" y1="218.00" x2="38.50" y2="218.00" stroke="#231f20" stroke-width="1.25"/>
<text x="32.35" y="220.60" font-size="8.4" text-anchor="end" textLength="8.7" lengthAdjust="spacingAndGlyphs">20</text>
<line x1="35.30" y1="237.20" x2="38.50" y2="237.20" stroke="#231f20" stroke-width="1.25"/>
<text x="32.35" y="239.80" font-size="8.4" text-anchor="end" textLength="8.7" lengthAdjust="spacingAndGlyphs">15</text>
<line x1="35.30" y1="256.30" x2="38.50" y2="256.30" stroke="#231f20" stroke-width="1.25"/>
<text x="32.35" y="258.90" font-size="8.4" text-anchor="end" textLength="8.7" lengthAdjust="spacingAndGlyphs">10</text>
<line x1="35.30" y1="275.60" x2="38.50" y2="275.60" stroke="#231f20" stroke-width="1.25"/>
<text x="32.35" y="278.20" font-size="8.4" text-anchor="end" textLength="4.35" lengthAdjust="spacingAndGlyphs">5</text>
<line x1="35.30" y1="294.60" x2="38.50" y2="294.60" stroke="#231f20" stroke-width="1.25"/>
<text x="32.35" y="297.20" font-size="8.4" text-anchor="end" textLength="4.35" lengthAdjust="spacingAndGlyphs">0</text>
<line x1="38.50" y1="294.50" x2="75.00" y2="294.50" stroke="#231f20" stroke-width="1.25"/>
<line x1="47.50" y1="294.50" x2="47.50" y2="297.50" stroke="#231f20" stroke-width="1.25"/>
<line x1="66.25" y1="294.50" x2="66.25" y2="297.50" stroke="#231f20" stroke-width="1.25"/>
<text x="57.00" y="308.20" font-size="8.4" text-anchor="middle">CMP</text>
<text x="18.20" y="256.50" font-size="9.2" text-anchor="middle" textLength="43.0" lengthAdjust="spacingAndGlyphs" transform="rotate(-90 18.20 256.50)">Cells (× 10<tspan dy="-3.2" font-size="6">4</tspan><tspan dy="3.2">)</tspan></text>
<circle cx="45.00" cy="225.00" r="1.72" fill="#aa001b"/>
<circle cx="50.75" cy="224.25" r="1.72" fill="#aa001b"/>
<circle cx="47.50" cy="235.00" r="1.72" fill="#aa001b"/>
<circle cx="47.50" cy="258.25" r="1.72" fill="#aa001b"/>
<circle cx="47.50" cy="270.00" r="1.72" fill="#aa001b"/>
<circle cx="47.50" cy="280.00" r="1.72" fill="#aa001b"/>
<line x1="41.30" y1="248.75" x2="53.70" y2="248.75" stroke="#231f20" stroke-width="1.3"/>
<line x1="47.50" y1="239.25" x2="47.50" y2="258.75" stroke="#231f20" stroke-width="0.9"/>
<line x1="44.10" y1="239.25" x2="50.90" y2="239.25" stroke="#231f20" stroke-width="0.9"/>
<line x1="44.10" y1="258.75" x2="50.90" y2="258.75" stroke="#231f20" stroke-width="0.9"/>
<circle cx="63.75" cy="248.00" r="1.72" fill="none" stroke="#4869a4" stroke-width="0.9"/>
<circle cx="69.25" cy="251.75" r="1.72" fill="none" stroke="#4869a4" stroke-width="0.9"/>
<circle cx="61.25" cy="267.50" r="1.72" fill="none" stroke="#4869a4" stroke-width="0.9"/>
<circle cx="64.25" cy="269.25" r="1.72" fill="none" stroke="#4869a4" stroke-width="0.9"/>
<circle cx="69.25" cy="268.25" r="1.72" fill="none" stroke="#4869a4" stroke-width="0.9"/>
<circle cx="66.50" cy="269.00" r="1.72" fill="none" stroke="#4869a4" stroke-width="0.9"/>
<line x1="60.05" y1="262.50" x2="72.45" y2="262.50" stroke="#231f20" stroke-width="1.3"/>
<line x1="66.25" y1="258.25" x2="66.25" y2="265.75" stroke="#231f20" stroke-width="0.9"/>
<line x1="62.85" y1="258.25" x2="69.65" y2="258.25" stroke="#231f20" stroke-width="0.9"/>
<line x1="62.85" y1="265.75" x2="69.65" y2="265.75" stroke="#231f20" stroke-width="0.9"/>
<line x1="110.50" y1="216.00" x2="110.50" y2="295.12" stroke="#231f20" stroke-width="1.25"/>
<line x1="107.30" y1="218.00" x2="110.50" y2="218.00" stroke="#231f20" stroke-width="1.25"/>
<text x="104.35" y="220.60" font-size="8.4" text-anchor="end" textLength="8.7" lengthAdjust="spacingAndGlyphs">15</text>
<line x1="107.30" y1="243.75" x2="110.50" y2="243.75" stroke="#231f20" stroke-width="1.25"/>
<text x="104.35" y="246.35" font-size="8.4" text-anchor="end" textLength="8.7" lengthAdjust="spacingAndGlyphs">10</text>
<line x1="107.30" y1="269.50" x2="110.50" y2="269.50" stroke="#231f20" stroke-width="1.25"/>
<text x="104.35" y="272.10" font-size="8.4" text-anchor="end" textLength="4.35" lengthAdjust="spacingAndGlyphs">5</text>
<line x1="107.30" y1="294.60" x2="110.50" y2="294.60" stroke="#231f20" stroke-width="1.25"/>
<text x="104.35" y="297.20" font-size="8.4" text-anchor="end" textLength="4.35" lengthAdjust="spacingAndGlyphs">0</text>
<line x1="110.50" y1="294.50" x2="146.25" y2="294.50" stroke="#231f20" stroke-width="1.25"/>
<line x1="119.25" y1="294.50" x2="119.25" y2="297.50" stroke="#231f20" stroke-width="1.25"/>
<line x1="138.00" y1="294.50" x2="138.00" y2="297.50" stroke="#231f20" stroke-width="1.25"/>
<text x="128.25" y="308.20" font-size="8.4" text-anchor="middle">GMP</text>
<text x="89.00" y="256.50" font-size="9.2" text-anchor="middle" textLength="43.0" lengthAdjust="spacingAndGlyphs" transform="rotate(-90 89.00 256.50)">Cells (× 10<tspan dy="-3.2" font-size="6">4</tspan><tspan dy="3.2">)</tspan></text>
<path d="M120.00 220.60V218.00H140.75V220.60" fill="none" stroke="#231f20" stroke-width="1.1"/>
<path d="M130.38 212.95L130.38 215.65M131.54 213.62L129.21 214.98M131.54 214.98L129.21 213.62" stroke="#231f20" stroke-width="0.9" fill="none"/>
<circle cx="130.38" cy="214.30" r="0.85" fill="#231f20"/>
<circle cx="119.25" cy="228.75" r="1.72" fill="#aa001b"/>
<circle cx="116.25" cy="244.25" r="1.72" fill="#aa001b"/>
<circle cx="119.80" cy="243.00" r="1.72" fill="#aa001b"/>
<circle cx="120.00" cy="249.50" r="1.72" fill="#aa001b"/>
<circle cx="116.25" cy="257.00" r="1.72" fill="#aa001b"/>
<circle cx="122.50" cy="255.00" r="1.72" fill="#aa001b"/>
<circle cx="121.50" cy="246.50" r="1.72" fill="#aa001b"/>
<line x1="113.25" y1="246.25" x2="125.25" y2="246.25" stroke="#231f20" stroke-width="1.3"/>
<line x1="119.25" y1="242.00" x2="119.25" y2="250.00" stroke="#231f20" stroke-width="0.9"/>
<line x1="116.25" y1="242.00" x2="122.25" y2="242.00" stroke="#231f20" stroke-width="0.9"/>
<line x1="116.25" y1="250.00" x2="122.25" y2="250.00" stroke="#231f20" stroke-width="0.9"/>
<circle cx="137.50" cy="255.00" r="1.72" fill="none" stroke="#4869a4" stroke-width="0.9"/>
<circle cx="135.50" cy="257.50" r="1.72" fill="none" stroke="#4869a4" stroke-width="0.9"/>
<circle cx="139.50" cy="257.00" r="1.72" fill="none" stroke="#4869a4" stroke-width="0.9"/>
<circle cx="136.00" cy="260.00" r="1.72" fill="none" stroke="#4869a4" stroke-width="0.9"/>
<circle cx="140.00" cy="260.00" r="1.72" fill="none" stroke="#4869a4" stroke-width="0.9"/>
<circle cx="138.00" cy="261.00" r="1.72" fill="none" stroke="#4869a4" stroke-width="0.9"/>
<circle cx="134.80" cy="258.50" r="1.72" fill="none" stroke="#4869a4" stroke-width="0.9"/>
<line x1="132.00" y1="258.25" x2="144.00" y2="258.25" stroke="#231f20" stroke-width="1.3"/>
<line x1="181.50" y1="216.00" x2="181.50" y2="295.12" stroke="#231f20" stroke-width="1.25"/>
<line x1="178.30" y1="218.00" x2="181.50" y2="218.00" stroke="#231f20" stroke-width="1.25"/>
<text x="175.35" y="220.60" font-size="8.4" text-anchor="end" textLength="8.7" lengthAdjust="spacingAndGlyphs">30</text>
<line x1="178.30" y1="243.75" x2="181.50" y2="243.75" stroke="#231f20" stroke-width="1.25"/>
<text x="175.35" y="246.35" font-size="8.4" text-anchor="end" textLength="8.7" lengthAdjust="spacingAndGlyphs">20</text>
<line x1="178.30" y1="269.50" x2="181.50" y2="269.50" stroke="#231f20" stroke-width="1.25"/>
<text x="175.35" y="272.10" font-size="8.4" text-anchor="end" textLength="8.7" lengthAdjust="spacingAndGlyphs">10</text>
<line x1="178.30" y1="294.60" x2="181.50" y2="294.60" stroke="#231f20" stroke-width="1.25"/>
<text x="175.35" y="297.20" font-size="8.4" text-anchor="end" textLength="4.35" lengthAdjust="spacingAndGlyphs">0</text>
<line x1="181.50" y1="294.50" x2="217.50" y2="294.50" stroke="#231f20" stroke-width="1.25"/>
<line x1="190.50" y1="294.50" x2="190.50" y2="297.50" stroke="#231f20" stroke-width="1.25"/>
<line x1="209.25" y1="294.50" x2="209.25" y2="297.50" stroke="#231f20" stroke-width="1.25"/>
<text x="200.00" y="308.20" font-size="8.4" text-anchor="middle">MEP</text>
<text x="161.50" y="256.50" font-size="9.2" text-anchor="middle" textLength="43.0" lengthAdjust="spacingAndGlyphs" transform="rotate(-90 161.50 256.50)">Cells (× 10<tspan dy="-3.2" font-size="6">4</tspan><tspan dy="3.2">)</tspan></text>
<circle cx="187.50" cy="234.50" r="1.72" fill="#aa001b"/>
<circle cx="193.25" cy="233.75" r="1.72" fill="#aa001b"/>
<circle cx="190.50" cy="243.75" r="1.72" fill="#aa001b"/>
<circle cx="187.50" cy="264.25" r="1.72" fill="#aa001b"/>
<circle cx="190.50" cy="265.00" r="1.72" fill="#aa001b"/>
<circle cx="193.75" cy="265.00" r="1.72" fill="#aa001b"/>
<line x1="184.30" y1="250.50" x2="196.70" y2="250.50" stroke="#231f20" stroke-width="1.3"/>
<line x1="190.50" y1="245.00" x2="190.50" y2="257.00" stroke="#231f20" stroke-width="0.9"/>
<line x1="187.10" y1="245.00" x2="193.90" y2="245.00" stroke="#231f20" stroke-width="0.9"/>
<line x1="187.10" y1="257.00" x2="193.90" y2="257.00" stroke="#231f20" stroke-width="0.9"/>
<circle cx="208.75" cy="236.25" r="1.72" fill="none" stroke="#4869a4" stroke-width="0.9"/>
<circle cx="209.25" cy="252.00" r="1.72" fill="none" stroke="#4869a4" stroke-width="0.9"/>
<circle cx="203.75" cy="263.00" r="1.72" fill="none" stroke="#4869a4" stroke-width="0.9"/>
<circle cx="206.25" cy="266.25" r="1.72" fill="none" stroke="#4869a4" stroke-width="0.9"/>
<circle cx="212.50" cy="263.00" r="1.72" fill="none" stroke="#4869a4" stroke-width="0.9"/>
<circle cx="209.50" cy="266.00" r="1.72" fill="none" stroke="#4869a4" stroke-width="0.9"/>
<line x1="203.05" y1="257.50" x2="215.45" y2="257.50" stroke="#231f20" stroke-width="1.3"/>
<line x1="209.25" y1="254.25" x2="209.25" y2="260.75" stroke="#231f20" stroke-width="0.9"/>
<line x1="206.05" y1="254.25" x2="212.45" y2="254.25" stroke="#231f20" stroke-width="0.9"/>
<line x1="206.05" y1="260.75" x2="212.45" y2="260.75" stroke="#231f20" stroke-width="0.9"/>
<line x1="252.50" y1="216.00" x2="252.50" y2="295.12" stroke="#231f20" stroke-width="1.25"/>
<line x1="249.30" y1="218.00" x2="252.50" y2="218.00" stroke="#231f20" stroke-width="1.25"/>
<text x="246.35" y="220.60" font-size="8.4" text-anchor="end" textLength="8.7" lengthAdjust="spacingAndGlyphs">25</text>
<line x1="249.30" y1="233.25" x2="252.50" y2="233.25" stroke="#231f20" stroke-width="1.25"/>
<text x="246.35" y="235.85" font-size="8.4" text-anchor="end" textLength="8.7" lengthAdjust="spacingAndGlyphs">20</text>
<line x1="249.30" y1="248.75" x2="252.50" y2="248.75" stroke="#231f20" stroke-width="1.25"/>
<text x="246.35" y="251.35" font-size="8.4" text-anchor="end" textLength="8.7" lengthAdjust="spacingAndGlyphs">15</text>
<line x1="249.30" y1="264.25" x2="252.50" y2="264.25" stroke="#231f20" stroke-width="1.25"/>
<text x="246.35" y="266.85" font-size="8.4" text-anchor="end" textLength="8.7" lengthAdjust="spacingAndGlyphs">10</text>
<line x1="249.30" y1="279.50" x2="252.50" y2="279.50" stroke="#231f20" stroke-width="1.25"/>
<text x="246.35" y="282.10" font-size="8.4" text-anchor="end" textLength="4.35" lengthAdjust="spacingAndGlyphs">5</text>
<line x1="249.30" y1="294.60" x2="252.50" y2="294.60" stroke="#231f20" stroke-width="1.25"/>
<text x="246.35" y="297.20" font-size="8.4" text-anchor="end" textLength="4.35" lengthAdjust="spacingAndGlyphs">0</text>
<line x1="252.50" y1="294.50" x2="288.75" y2="294.50" stroke="#231f20" stroke-width="1.25"/>
<line x1="262.00" y1="294.50" x2="262.00" y2="297.50" stroke="#231f20" stroke-width="1.25"/>
<line x1="280.50" y1="294.50" x2="280.50" y2="297.50" stroke="#231f20" stroke-width="1.25"/>
<text x="271.20" y="308.20" font-size="8.4" text-anchor="middle">CLP</text>
<text x="232.80" y="256.50" font-size="9.2" text-anchor="middle" textLength="43.0" lengthAdjust="spacingAndGlyphs" transform="rotate(-90 232.80 256.50)">Cells (× 10<tspan dy="-3.2" font-size="6">4</tspan><tspan dy="3.2">)</tspan></text>
<circle cx="262.00" cy="234.25" r="1.72" fill="#aa001b"/>
<circle cx="262.00" cy="245.00" r="1.72" fill="#aa001b"/>
<circle cx="262.00" cy="258.00" r="1.72" fill="#aa001b"/>
<circle cx="259.25" cy="277.50" r="1.72" fill="#aa001b"/>
<circle cx="265.50" cy="277.50" r="1.72" fill="#aa001b"/>
<circle cx="262.00" cy="282.50" r="1.72" fill="#aa001b"/>
<line x1="255.80" y1="262.50" x2="268.20" y2="262.50" stroke="#231f20" stroke-width="1.3"/>
<line x1="262.00" y1="254.50" x2="262.00" y2="271.25" stroke="#231f20" stroke-width="0.9"/>
<line x1="258.60" y1="254.50" x2="265.40" y2="254.50" stroke="#231f20" stroke-width="0.9"/>
<line x1="258.60" y1="271.25" x2="265.40" y2="271.25" stroke="#231f20" stroke-width="0.9"/>
<circle cx="280.50" cy="244.50" r="1.72" fill="none" stroke="#4869a4" stroke-width="0.9"/>
<circle cx="280.50" cy="251.25" r="1.72" fill="none" stroke="#4869a4" stroke-width="0.9"/>
<circle cx="277.50" cy="281.25" r="1.72" fill="none" stroke="#4869a4" stroke-width="0.9"/>
<circle cx="281.25" cy="282.00" r="1.72" fill="none" stroke="#4869a4" stroke-width="0.9"/>
<circle cx="280.50" cy="285.75" r="1.72" fill="none" stroke="#4869a4" stroke-width="0.9"/>
<circle cx="283.75" cy="285.75" r="1.72" fill="none" stroke="#4869a4" stroke-width="0.9"/>
<circle cx="279.50" cy="286.75" r="1.72" fill="none" stroke="#4869a4" stroke-width="0.9"/>
<line x1="274.30" y1="271.25" x2="286.70" y2="271.25" stroke="#231f20" stroke-width="1.3"/>
<line x1="280.50" y1="264.25" x2="280.50" y2="279.25" stroke="#231f20" stroke-width="0.9"/>
<line x1="277.10" y1="264.25" x2="283.90" y2="264.25" stroke="#231f20" stroke-width="0.9"/>
<line x1="277.10" y1="279.25" x2="283.90" y2="279.25" stroke="#231f20" stroke-width="0.9"/>
<text x="292.80" y="202.80" font-size="11.2" font-weight="bold" style="stroke-width:0.45px">E</text>
<line x1="319.50" y1="209.25" x2="319.50" y2="296.12" stroke="#231f20" stroke-width="1.25"/>
<line x1="316.30" y1="211.25" x2="319.50" y2="211.25" stroke="#231f20" stroke-width="1.25"/>
<text x="313.35" y="213.85" font-size="8.4" text-anchor="end" textLength="4.35" lengthAdjust="spacingAndGlyphs">8</text>
<line x1="316.30" y1="232.50" x2="319.50" y2="232.50" stroke="#231f20" stroke-width="1.25"/>
<text x="313.35" y="235.10" font-size="8.4" text-anchor="end" textLength="4.35" lengthAdjust="spacingAndGlyphs">6</text>
<line x1="316.30" y1="253.25" x2="319.50" y2="253.25" stroke="#231f20" stroke-width="1.25"/>
<text x="313.35" y="255.85" font-size="8.4" text-anchor="end" textLength="4.35" lengthAdjust="spacingAndGlyphs">4</text>
<line x1="316.30" y1="274.25" x2="319.50" y2="274.25" stroke="#231f20" stroke-width="1.25"/>
<text x="313.35" y="276.85" font-size="8.4" text-anchor="end" textLength="4.35" lengthAdjust="spacingAndGlyphs">2</text>
<line x1="316.30" y1="295.50" x2="319.50" y2="295.50" stroke="#231f20" stroke-width="1.25"/>
<text x="313.35" y="298.10" font-size="8.4" text-anchor="end" textLength="4.35" lengthAdjust="spacingAndGlyphs">0</text>
<line x1="319.50" y1="295.50" x2="359.50" y2="295.50" stroke="#231f20" stroke-width="1.25"/>
<line x1="329.50" y1="295.50" x2="329.50" y2="298.50" stroke="#231f20" stroke-width="1.25"/>
<line x1="349.50" y1="295.50" x2="349.50" y2="298.50" stroke="#231f20" stroke-width="1.25"/>
<text x="339.50" y="307.50" font-size="8.4" text-anchor="middle">B220<tspan dy="-3.0" font-size="5.6">+</tspan></text>
<text x="303.20" y="253.40" font-size="9.2" text-anchor="middle" textLength="43.0" lengthAdjust="spacingAndGlyphs" transform="rotate(-90 303.20 253.40)">Cells (× 10<tspan dy="-3.2" font-size="6">6</tspan><tspan dy="3.2">)</tspan></text>
<circle cx="323.75" cy="221.25" r="1.72" fill="#aa001b"/>
<circle cx="329.50" cy="218.00" r="1.72" fill="#aa001b"/>
<circle cx="330.75" cy="222.50" r="1.72" fill="#aa001b"/>
<circle cx="329.50" cy="227.00" r="1.72" fill="#aa001b"/>
<circle cx="326.75" cy="238.25" r="1.72" fill="#aa001b"/>
<circle cx="332.50" cy="235.00" r="1.72" fill="#aa001b"/>
<line x1="322.90" y1="226.25" x2="336.10" y2="226.25" stroke="#231f20" stroke-width="1.3"/>
<line x1="329.50" y1="222.50" x2="329.50" y2="229.50" stroke="#231f20" stroke-width="0.9"/>
<line x1="326.30" y1="222.50" x2="332.70" y2="222.50" stroke="#231f20" stroke-width="0.9"/>
<line x1="326.30" y1="229.50" x2="332.70" y2="229.50" stroke="#231f20" stroke-width="0.9"/>
<circle cx="346.75" cy="230.00" r="1.72" fill="none" stroke="#4869a4" stroke-width="0.9"/>
<circle cx="352.50" cy="228.25" r="1.72" fill="none" stroke="#4869a4" stroke-width="0.9"/>
<circle cx="350.00" cy="234.25" r="1.72" fill="none" stroke="#4869a4" stroke-width="0.9"/>
<circle cx="349.50" cy="260.50" r="1.72" fill="none" stroke="#4869a4" stroke-width="0.9"/>
<line x1="343.30" y1="238.00" x2="355.70" y2="238.00" stroke="#231f20" stroke-width="1.3"/>
<line x1="349.50" y1="231.25" x2="349.50" y2="245.75" stroke="#231f20" stroke-width="0.9"/>
<line x1="346.30" y1="231.25" x2="352.70" y2="231.25" stroke="#231f20" stroke-width="0.9"/>
<line x1="346.30" y1="245.75" x2="352.70" y2="245.75" stroke="#231f20" stroke-width="0.9"/>
<line x1="394.50" y1="209.25" x2="394.50" y2="296.12" stroke="#231f20" stroke-width="1.25"/>
<line x1="391.30" y1="211.25" x2="394.50" y2="211.25" stroke="#231f20" stroke-width="1.25"/>
<text x="388.35" y="213.85" font-size="8.4" text-anchor="end" textLength="8.7" lengthAdjust="spacingAndGlyphs">25</text>
<line x1="391.30" y1="228.25" x2="394.50" y2="228.25" stroke="#231f20" stroke-width="1.25"/>
<text x="388.35" y="230.85" font-size="8.4" text-anchor="end" textLength="8.7" lengthAdjust="spacingAndGlyphs">20</text>
<line x1="391.30" y1="245.50" x2="394.50" y2="245.50" stroke="#231f20" stroke-width="1.25"/>
<text x="388.35" y="248.10" font-size="8.4" text-anchor="end" textLength="8.7" lengthAdjust="spacingAndGlyphs">15</text>
<line x1="391.30" y1="262.00" x2="394.50" y2="262.00" stroke="#231f20" stroke-width="1.25"/>
<text x="388.35" y="264.60" font-size="8.4" text-anchor="end" textLength="8.7" lengthAdjust="spacingAndGlyphs">10</text>
<line x1="391.30" y1="278.75" x2="394.50" y2="278.75" stroke="#231f20" stroke-width="1.25"/>
<text x="388.35" y="281.35" font-size="8.4" text-anchor="end" textLength="4.35" lengthAdjust="spacingAndGlyphs">5</text>
<line x1="391.30" y1="295.50" x2="394.50" y2="295.50" stroke="#231f20" stroke-width="1.25"/>
<text x="388.35" y="298.10" font-size="8.4" text-anchor="end" textLength="4.35" lengthAdjust="spacingAndGlyphs">0</text>
<line x1="394.50" y1="295.50" x2="434.50" y2="295.50" stroke="#231f20" stroke-width="1.25"/>
<line x1="404.50" y1="295.50" x2="404.50" y2="298.50" stroke="#231f20" stroke-width="1.25"/>
<line x1="425.00" y1="295.50" x2="425.00" y2="298.50" stroke="#231f20" stroke-width="1.25"/>
<text x="415.00" y="307.50" font-size="8.4" text-anchor="middle">CD11b<tspan dy="-3.0" font-size="5.6">+</tspan></text>
<text x="374.00" y="253.40" font-size="9.2" text-anchor="middle" textLength="43.0" lengthAdjust="spacingAndGlyphs" transform="rotate(-90 374.00 253.40)">Cells (× 10<tspan dy="-3.2" font-size="6">6</tspan><tspan dy="3.2">)</tspan></text>
<path d="M404.50 218.85V216.25H426.25V218.85" fill="none" stroke="#231f20" stroke-width="1.1"/>
<path d="M415.38 211.20L415.38 213.90M416.54 211.88L414.21 213.23M416.54 213.23L414.21 211.88" stroke="#231f20" stroke-width="0.9" fill="none"/>
<circle cx="415.38" cy="212.55" r="0.85" fill="#231f20"/>
<circle cx="405.00" cy="230.75" r="1.72" fill="#aa001b"/>
<circle cx="401.25" cy="249.50" r="1.72" fill="#aa001b"/>
<circle cx="405.00" cy="248.00" r="1.72" fill="#aa001b"/>
<circle cx="408.00" cy="251.25" r="1.72" fill="#aa001b"/>
<circle cx="402.50" cy="254.50" r="1.72" fill="#aa001b"/>
<circle cx="407.50" cy="254.50" r="1.72" fill="#aa001b"/>
<circle cx="405.50" cy="245.50" r="1.72" fill="#aa001b"/>
<line x1="398.80" y1="247.00" x2="411.20" y2="247.00" stroke="#231f20" stroke-width="1.3"/>
<line x1="405.00" y1="243.25" x2="405.00" y2="250.00" stroke="#231f20" stroke-width="0.9"/>
<line x1="401.80" y1="243.25" x2="408.20" y2="243.25" stroke="#231f20" stroke-width="0.9"/>
<line x1="401.80" y1="250.00" x2="408.20" y2="250.00" stroke="#231f20" stroke-width="0.9"/>
<circle cx="421.25" cy="260.00" r="1.72" fill="none" stroke="#4869a4" stroke-width="0.9"/>
<circle cx="427.50" cy="258.25" r="1.72" fill="none" stroke="#4869a4" stroke-width="0.9"/>
<circle cx="425.00" cy="271.25" r="1.72" fill="none" stroke="#4869a4" stroke-width="0.9"/>
<circle cx="425.00" cy="261.25" r="1.72" fill="none" stroke="#4869a4" stroke-width="0.9"/>
<line x1="418.80" y1="262.50" x2="431.20" y2="262.50" stroke="#231f20" stroke-width="1.3"/>
<line x1="425.00" y1="260.00" x2="425.00" y2="265.50" stroke="#231f20" stroke-width="0.9"/>
<line x1="421.80" y1="260.00" x2="428.20" y2="260.00" stroke="#231f20" stroke-width="0.9"/>
<line x1="421.80" y1="265.50" x2="428.20" y2="265.50" stroke="#231f20" stroke-width="0.9"/>
<line x1="472.50" y1="209.25" x2="472.50" y2="296.12" stroke="#231f20" stroke-width="1.25"/>
<line x1="469.30" y1="211.25" x2="472.50" y2="211.25" stroke="#231f20" stroke-width="1.25"/>
<text x="466.35" y="213.85" font-size="8.4" text-anchor="end" textLength="10.799999999999999" lengthAdjust="spacingAndGlyphs">2.5</text>
<line x1="469.30" y1="228.25" x2="472.50" y2="228.25" stroke="#231f20" stroke-width="1.25"/>
<text x="466.35" y="230.85" font-size="8.4" text-anchor="end" textLength="10.799999999999999" lengthAdjust="spacingAndGlyphs">2.0</text>
<line x1="469.30" y1="245.50" x2="472.50" y2="245.50" stroke="#231f20" stroke-width="1.25"/>
<text x="466.35" y="248.10" font-size="8.4" text-anchor="end" textLength="10.799999999999999" lengthAdjust="spacingAndGlyphs">1.5</text>
<line x1="469.30" y1="262.00" x2="472.50" y2="262.00" stroke="#231f20" stroke-width="1.25"/>
<text x="466.35" y="264.60" font-size="8.4" text-anchor="end" textLength="10.799999999999999" lengthAdjust="spacingAndGlyphs">1.0</text>
<line x1="469.30" y1="278.75" x2="472.50" y2="278.75" stroke="#231f20" stroke-width="1.25"/>
<text x="466.35" y="281.35" font-size="8.4" text-anchor="end" textLength="10.799999999999999" lengthAdjust="spacingAndGlyphs">0.5</text>
<line x1="469.30" y1="295.50" x2="472.50" y2="295.50" stroke="#231f20" stroke-width="1.25"/>
<text x="466.35" y="298.10" font-size="8.4" text-anchor="end" textLength="10.799999999999999" lengthAdjust="spacingAndGlyphs">0.0</text>
<line x1="472.50" y1="295.50" x2="511.25" y2="295.50" stroke="#231f20" stroke-width="1.25"/>
<line x1="482.00" y1="295.50" x2="482.00" y2="298.50" stroke="#231f20" stroke-width="1.25"/>
<line x1="502.00" y1="295.50" x2="502.00" y2="298.50" stroke="#231f20" stroke-width="1.25"/>
<text x="492.30" y="307.50" font-size="8.4" text-anchor="middle">GR-1<tspan dy="-3.0" font-size="5.6">+</tspan></text>
<text x="449.80" y="253.40" font-size="9.2" text-anchor="middle" textLength="43.0" lengthAdjust="spacingAndGlyphs" transform="rotate(-90 449.80 253.40)">Cells (× 10<tspan dy="-3.2" font-size="6">7</tspan><tspan dy="3.2">)</tspan></text>
<path d="M481.25 218.85V216.25H503.75V218.85" fill="none" stroke="#231f20" stroke-width="1.1"/>
<path d="M490.70 211.20L490.70 213.90M491.87 211.88L489.53 213.23M491.87 213.23L489.53 211.88" stroke="#231f20" stroke-width="0.9" fill="none"/>
<circle cx="490.70" cy="212.55" r="0.85" fill="#231f20"/>
<path d="M494.30 211.20L494.30 213.90M495.47 211.88L493.13 213.23M495.47 213.23L493.13 211.88" stroke="#231f20" stroke-width="0.9" fill="none"/>
<circle cx="494.30" cy="212.55" r="0.85" fill="#231f20"/>
<circle cx="482.00" cy="226.25" r="1.72" fill="#aa001b"/>
<circle cx="476.25" cy="244.50" r="1.72" fill="#aa001b"/>
<circle cx="480.00" cy="247.50" r="1.72" fill="#aa001b"/>
<circle cx="483.00" cy="240.75" r="1.72" fill="#aa001b"/>
<circle cx="485.50" cy="246.25" r="1.72" fill="#aa001b"/>
<circle cx="482.50" cy="243.00" r="1.72" fill="#aa001b"/>
<line x1="475.80" y1="241.25" x2="488.20" y2="241.25" stroke="#231f20" stroke-width="1.3"/>
<line x1="482.00" y1="238.00" x2="482.00" y2="243.75" stroke="#231f20" stroke-width="0.9"/>
<line x1="478.80" y1="238.00" x2="485.20" y2="238.00" stroke="#231f20" stroke-width="0.9"/>
<line x1="478.80" y1="243.75" x2="485.20" y2="243.75" stroke="#231f20" stroke-width="0.9"/>
<circle cx="498.75" cy="257.00" r="1.72" fill="none" stroke="#4869a4" stroke-width="0.9"/>
<circle cx="504.50" cy="255.50" r="1.72" fill="none" stroke="#4869a4" stroke-width="0.9"/>
<circle cx="502.50" cy="257.50" r="1.72" fill="none" stroke="#4869a4" stroke-width="0.9"/>
<circle cx="502.50" cy="270.75" r="1.72" fill="none" stroke="#4869a4" stroke-width="0.9"/>
<line x1="495.80" y1="260.50" x2="508.20" y2="260.50" stroke="#231f20" stroke-width="1.3"/>
<line x1="502.00" y1="256.25" x2="502.00" y2="264.25" stroke="#231f20" stroke-width="0.9"/>
<line x1="498.80" y1="256.25" x2="505.20" y2="256.25" stroke="#231f20" stroke-width="0.9"/>
<line x1="498.80" y1="264.25" x2="505.20" y2="264.25" stroke="#231f20" stroke-width="0.9"/>
<text x="7.60" y="334.90" font-size="11.2" font-weight="bold" style="stroke-width:0.45px">F</text>
<line x1="38.50" y1="343.50" x2="38.50" y2="430.12" stroke="#231f20" stroke-width="1.25"/>
<line x1="35.30" y1="345.50" x2="38.50" y2="345.50" stroke="#231f20" stroke-width="1.25"/>
<text x="32.35" y="348.10" font-size="8.4" text-anchor="end" textLength="8.7" lengthAdjust="spacingAndGlyphs">15</text>
<line x1="35.30" y1="373.75" x2="38.50" y2="373.75" stroke="#231f20" stroke-width="1.25"/>
<text x="32.35" y="376.35" font-size="8.4" text-anchor="end" textLength="8.7" lengthAdjust="spacingAndGlyphs">10</text>
<line x1="35.30" y1="402.00" x2="38.50" y2="402.00" stroke="#231f20" stroke-width="1.25"/>
<text x="32.35" y="404.60" font-size="8.4" text-anchor="end" textLength="4.35" lengthAdjust="spacingAndGlyphs">5</text>
<line x1="35.30" y1="429.60" x2="38.50" y2="429.60" stroke="#231f20" stroke-width="1.25"/>
<text x="32.35" y="432.20" font-size="8.4" text-anchor="end" textLength="4.35" lengthAdjust="spacingAndGlyphs">0</text>
<line x1="38.50" y1="429.50" x2="78.75" y2="429.50" stroke="#231f20" stroke-width="1.25"/>
<line x1="48.00" y1="429.50" x2="48.00" y2="432.50" stroke="#231f20" stroke-width="1.25"/>
<line x1="68.75" y1="429.50" x2="68.75" y2="432.50" stroke="#231f20" stroke-width="1.25"/>
<text x="57.00" y="442.60" font-size="8.4" text-anchor="middle" textLength="14.0" lengthAdjust="spacingAndGlyphs">LSK</text>
<text x="18.20" y="387.80" font-size="9.2" text-anchor="middle" textLength="43.0" lengthAdjust="spacingAndGlyphs" transform="rotate(-90 18.20 387.80)">Cells (× 10<tspan dy="-3.2" font-size="6">4</tspan><tspan dy="3.2">)</tspan></text>
<path d="M47.50 358.35V355.75H68.75V358.35" fill="none" stroke="#231f20" stroke-width="1.1"/>
<path d="M58.12 350.70L58.12 353.40M59.29 351.38L56.96 352.73M59.29 352.73L56.96 351.38" stroke="#231f20" stroke-width="0.9" fill="none"/>
<circle cx="58.12" cy="352.05" r="0.85" fill="#231f20"/>
<circle cx="48.60" cy="366.50" r="1.55" fill="#d9a08e" stroke="#b92f3b" stroke-width="0.9"/>
<circle cx="45.80" cy="378.40" r="1.55" fill="#d9a08e" stroke="#b92f3b" stroke-width="0.9"/>
<circle cx="51.00" cy="378.00" r="1.55" fill="#d9a08e" stroke="#b92f3b" stroke-width="0.9"/>
<circle cx="45.80" cy="382.20" r="1.55" fill="#d9a08e" stroke="#b92f3b" stroke-width="0.9"/>
<circle cx="51.00" cy="385.20" r="1.55" fill="#d9a08e" stroke="#b92f3b" stroke-width="0.9"/>
<circle cx="51.00" cy="388.50" r="1.55" fill="#d9a08e" stroke="#b92f3b" stroke-width="0.9"/>
<circle cx="46.00" cy="391.80" r="1.55" fill="#d9a08e" stroke="#b92f3b" stroke-width="0.9"/>
<circle cx="43.60" cy="393.80" r="1.55" fill="#d9a08e" stroke="#b92f3b" stroke-width="0.9"/>
<circle cx="48.60" cy="394.10" r="1.55" fill="#d9a08e" stroke="#b92f3b" stroke-width="0.9"/>
<circle cx="53.40" cy="395.50" r="1.55" fill="#d9a08e" stroke="#b92f3b" stroke-width="0.9"/>
<circle cx="43.60" cy="398.10" r="1.55" fill="#d9a08e" stroke="#b92f3b" stroke-width="0.9"/>
<circle cx="48.60" cy="398.30" r="1.55" fill="#d9a08e" stroke="#b92f3b" stroke-width="0.9"/>
<circle cx="45.80" cy="405.50" r="1.55" fill="#d9a08e" stroke="#b92f3b" stroke-width="0.9"/>
<circle cx="51.00" cy="403.90" r="1.55" fill="#d9a08e" stroke="#b92f3b" stroke-width="0.9"/>
<line x1="42.30" y1="390.20" x2="54.90" y2="390.20" stroke="#231f20" stroke-width="1.3"/>
<line x1="48.60" y1="387.40" x2="48.60" y2="392.70" stroke="#231f20" stroke-width="0.9"/>
<line x1="45.90" y1="387.40" x2="51.30" y2="387.40" stroke="#231f20" stroke-width="0.9"/>
<line x1="45.90" y1="392.70" x2="51.30" y2="392.70" stroke="#231f20" stroke-width="0.9"/>
<circle cx="68.50" cy="389.20" r="1.55" fill="#a2b1d8" stroke="#42599f" stroke-width="0.9"/>
<circle cx="63.60" cy="395.20" r="1.55" fill="#a2b1d8" stroke="#42599f" stroke-width="0.9"/>
<circle cx="73.50" cy="395.20" r="1.55" fill="#a2b1d8" stroke="#42599f" stroke-width="0.9"/>
<circle cx="68.50" cy="396.40" r="1.55" fill="#a2b1d8" stroke="#42599f" stroke-width="0.9"/>
<circle cx="66.20" cy="400.20" r="1.55" fill="#a2b1d8" stroke="#42599f" stroke-width="0.9"/>
<circle cx="71.00" cy="402.50" r="1.55" fill="#a2b1d8" stroke="#42599f" stroke-width="0.9"/>
<circle cx="71.00" cy="406.30" r="1.55" fill="#a2b1d8" stroke="#42599f" stroke-width="0.9"/>
<circle cx="66.20" cy="411.40" r="1.55" fill="#a2b1d8" stroke="#42599f" stroke-width="0.9"/>
<line x1="61.90" y1="399.30" x2="75.30" y2="399.30" stroke="#231f20" stroke-width="1.3"/>
<line x1="68.60" y1="397.50" x2="68.60" y2="401.00" stroke="#231f20" stroke-width="0.9"/>
<line x1="66.10" y1="397.50" x2="71.10" y2="397.50" stroke="#231f20" stroke-width="0.9"/>
<line x1="66.10" y1="401.00" x2="71.10" y2="401.00" stroke="#231f20" stroke-width="0.9"/>
<line x1="125.50" y1="343.50" x2="125.50" y2="430.12" stroke="#231f20" stroke-width="1.25"/>
<line x1="122.30" y1="345.50" x2="125.50" y2="345.50" stroke="#231f20" stroke-width="1.25"/>
<text x="119.35" y="348.10" font-size="8.4" text-anchor="end" textLength="8.7" lengthAdjust="spacingAndGlyphs">80</text>
<line x1="122.30" y1="366.75" x2="125.50" y2="366.75" stroke="#231f20" stroke-width="1.25"/>
<text x="119.35" y="369.35" font-size="8.4" text-anchor="end" textLength="8.7" lengthAdjust="spacingAndGlyphs">60</text>
<line x1="122.30" y1="388.00" x2="125.50" y2="388.00" stroke="#231f20" stroke-width="1.25"/>
<text x="119.35" y="390.60" font-size="8.4" text-anchor="end" textLength="8.7" lengthAdjust="spacingAndGlyphs">40</text>
<line x1="122.30" y1="408.75" x2="125.50" y2="408.75" stroke="#231f20" stroke-width="1.25"/>
<text x="119.35" y="411.35" font-size="8.4" text-anchor="end" textLength="8.7" lengthAdjust="spacingAndGlyphs">20</text>
<line x1="122.30" y1="429.60" x2="125.50" y2="429.60" stroke="#231f20" stroke-width="1.25"/>
<text x="119.35" y="432.20" font-size="8.4" text-anchor="end" textLength="4.35" lengthAdjust="spacingAndGlyphs">0</text>
<line x1="125.50" y1="429.50" x2="248.00" y2="429.50" stroke="#231f20" stroke-width="1.25"/>
<line x1="133.10" y1="429.50" x2="133.10" y2="432.50" stroke="#231f20" stroke-width="1.25"/>
<line x1="148.60" y1="429.50" x2="148.60" y2="432.50" stroke="#231f20" stroke-width="1.25"/>
<line x1="163.90" y1="429.50" x2="163.90" y2="432.50" stroke="#231f20" stroke-width="1.25"/>
<line x1="179.40" y1="429.50" x2="179.40" y2="432.50" stroke="#231f20" stroke-width="1.25"/>
<line x1="194.50" y1="429.50" x2="194.50" y2="432.50" stroke="#231f20" stroke-width="1.25"/>
<line x1="209.80" y1="429.50" x2="209.80" y2="432.50" stroke="#231f20" stroke-width="1.25"/>
<line x1="225.30" y1="429.50" x2="225.30" y2="432.50" stroke="#231f20" stroke-width="1.25"/>
<line x1="240.50" y1="429.50" x2="240.50" y2="432.50" stroke="#231f20" stroke-width="1.25"/>
<text x="141.60" y="442.60" font-size="8.4" text-anchor="middle" textLength="15.8" lengthAdjust="spacingAndGlyphs">HSC</text>
<text x="172.00" y="442.60" font-size="8.4" text-anchor="middle" textLength="25.6" lengthAdjust="spacingAndGlyphs">ST-HSC</text>
<text x="202.60" y="442.60" font-size="8.4" text-anchor="middle" textLength="22.6" lengthAdjust="spacingAndGlyphs">HPC-2</text>
<text x="233.60" y="442.60" font-size="8.4" text-anchor="middle" textLength="16.6" lengthAdjust="spacingAndGlyphs">MPP</text>
<text x="105.00" y="387.60" font-size="9.2" text-anchor="middle" textLength="43.0" lengthAdjust="spacingAndGlyphs" transform="rotate(-90 105.00 387.60)">Cells (× 10<tspan dy="-3.2" font-size="6">3</tspan><tspan dy="3.2">)</tspan></text>
<circle cx="134.5" cy="349.3" r="2.45" fill="#d49a8c" stroke="#b92f3b" stroke-width="1.0"/>
<circle cx="134.5" cy="360.5" r="2.45" fill="#909fcf" stroke="#42599f" stroke-width="1.0"/>
<text x="140.50" y="352.00" font-size="8.4" textLength="81" lengthAdjust="spacingAndGlyphs">WT + <tspan font-style="italic">Cd11c</tspan>-DOG + DT</text>
<text x="140.50" y="363.20" font-size="8.4" textLength="78" lengthAdjust="spacingAndGlyphs"><tspan font-style="italic">3d</tspan> + <tspan font-style="italic">Cd11c</tspan>-DOG + DT</text>
<path d="M224.40 353.00V350.40H238.60V353.00" fill="none" stroke="#231f20" stroke-width="1.1"/>
<path d="M231.50 345.35L231.50 348.05M232.67 346.02L230.33 347.38M232.67 347.38L230.33 346.02" stroke="#231f20" stroke-width="0.9" fill="none"/>
<circle cx="231.50" cy="346.70" r="0.85" fill="#231f20"/>
<circle cx="135.90" cy="407.90" r="1.55" fill="#d9a08e" stroke="#b92f3b" stroke-width="0.9"/>
<circle cx="130.60" cy="411.60" r="1.55" fill="#d9a08e" stroke="#b92f3b" stroke-width="0.9"/>
<circle cx="128.10" cy="414.75" r="1.55" fill="#d9a08e" stroke="#b92f3b" stroke-width="0.9"/>
<circle cx="132.50" cy="414.75" r="1.55" fill="#d9a08e" stroke="#b92f3b" stroke-width="0.9"/>
<circle cx="128.10" cy="421.00" r="1.55" fill="#d9a08e" stroke="#b92f3b" stroke-width="0.9"/>
<circle cx="130.60" cy="421.60" r="1.55" fill="#d9a08e" stroke="#b92f3b" stroke-width="0.9"/>
<circle cx="133.10" cy="421.25" r="1.55" fill="#d9a08e" stroke="#b92f3b" stroke-width="0.9"/>
<circle cx="135.60" cy="421.90" r="1.55" fill="#d9a08e" stroke="#b92f3b" stroke-width="0.9"/>
<circle cx="130.60" cy="424.40" r="1.55" fill="#d9a08e" stroke="#b92f3b" stroke-width="0.9"/>
<circle cx="133.75" cy="417.75" r="1.55" fill="#d9a08e" stroke="#b92f3b" stroke-width="0.9"/>
<circle cx="130.60" cy="416.90" r="1.55" fill="#d9a08e" stroke="#b92f3b" stroke-width="0.9"/>
<circle cx="133.10" cy="426.00" r="1.55" fill="#d9a08e" stroke="#b92f3b" stroke-width="0.9"/>
<line x1="128.00" y1="417.75" x2="138.50" y2="417.75" stroke="#231f20" stroke-width="1.3"/>
<circle cx="148.75" cy="405.90" r="1.55" fill="#a2b1d8" stroke="#42599f" stroke-width="0.9"/>
<circle cx="146.25" cy="414.40" r="1.55" fill="#a2b1d8" stroke="#42599f" stroke-width="0.9"/>
<circle cx="151.25" cy="418.10" r="1.55" fill="#a2b1d8" stroke="#42599f" stroke-width="0.9"/>
<circle cx="145.60" cy="422.25" r="1.55" fill="#a2b1d8" stroke="#42599f" stroke-width="0.9"/>
<circle cx="148.75" cy="423.75" r="1.55" fill="#a2b1d8" stroke="#42599f" stroke-width="0.9"/>
<circle cx="151.25" cy="422.50" r="1.55" fill="#a2b1d8" stroke="#42599f" stroke-width="0.9"/>
<circle cx="148.10" cy="421.25" r="1.55" fill="#a2b1d8" stroke="#42599f" stroke-width="0.9"/>
<circle cx="150.00" cy="420.00" r="1.55" fill="#a2b1d8" stroke="#42599f" stroke-width="0.9"/>
<line x1="143.10" y1="419.75" x2="154.00" y2="419.75" stroke="#231f20" stroke-width="1.3"/>
<circle cx="158.75" cy="420.00" r="1.55" fill="#d9a08e" stroke="#b92f3b" stroke-width="0.9"/>
<circle cx="163.75" cy="416.00" r="1.55" fill="#d9a08e" stroke="#b92f3b" stroke-width="0.9"/>
<circle cx="163.75" cy="418.50" r="1.55" fill="#d9a08e" stroke="#b92f3b" stroke-width="0.9"/>
<circle cx="161.25" cy="421.90" r="1.55" fill="#d9a08e" stroke="#b92f3b" stroke-width="0.9"/>
<circle cx="159.40" cy="426.00" r="1.55" fill="#d9a08e" stroke="#b92f3b" stroke-width="0.9"/>
<circle cx="161.90" cy="428.10" r="1.55" fill="#d9a08e" stroke="#b92f3b" stroke-width="0.9"/>
<circle cx="166.25" cy="427.75" r="1.55" fill="#d9a08e" stroke="#b92f3b" stroke-width="0.9"/>
<circle cx="163.75" cy="426.25" r="1.55" fill="#d9a08e" stroke="#b92f3b" stroke-width="0.9"/>
<circle cx="166.25" cy="424.40" r="1.55" fill="#d9a08e" stroke="#b92f3b" stroke-width="0.9"/>
<circle cx="158.50" cy="423.50" r="1.55" fill="#d9a08e" stroke="#b92f3b" stroke-width="0.9"/>
<line x1="158.10" y1="423.75" x2="169.40" y2="423.75" stroke="#231f20" stroke-width="1.3"/>
<circle cx="176.90" cy="421.50" r="1.55" fill="#a2b1d8" stroke="#42599f" stroke-width="0.9"/>
<circle cx="181.90" cy="421.50" r="1.55" fill="#a2b1d8" stroke="#42599f" stroke-width="0.9"/>
<circle cx="179.40" cy="425.00" r="1.55" fill="#a2b1d8" stroke="#42599f" stroke-width="0.9"/>
<circle cx="176.90" cy="428.10" r="1.55" fill="#a2b1d8" stroke="#42599f" stroke-width="0.9"/>
<circle cx="181.90" cy="428.10" r="1.55" fill="#a2b1d8" stroke="#42599f" stroke-width="0.9"/>
<circle cx="179.40" cy="427.00" r="1.55" fill="#a2b1d8" stroke="#42599f" stroke-width="0.9"/>
<line x1="174.40" y1="426.25" x2="184.75" y2="426.25" stroke="#231f20" stroke-width="1.3"/>
<circle cx="194.50" cy="405.10" r="1.55" fill="#d9a08e" stroke="#b92f3b" stroke-width="0.9"/>
<circle cx="192.00" cy="410.70" r="1.55" fill="#d9a08e" stroke="#b92f3b" stroke-width="0.9"/>
<circle cx="197.30" cy="411.40" r="1.55" fill="#d9a08e" stroke="#b92f3b" stroke-width="0.9"/>
<circle cx="194.10" cy="414.40" r="1.55" fill="#d9a08e" stroke="#b92f3b" stroke-width="0.9"/>
<circle cx="197.30" cy="416.70" r="1.55" fill="#d9a08e" stroke="#b92f3b" stroke-width="0.9"/>
<circle cx="192.00" cy="419.00" r="1.55" fill="#d9a08e" stroke="#b92f3b" stroke-width="0.9"/>
<circle cx="194.50" cy="421.10" r="1.55" fill="#d9a08e" stroke="#b92f3b" stroke-width="0.9"/>
<circle cx="197.30" cy="421.10" r="1.55" fill="#d9a08e" stroke="#b92f3b" stroke-width="0.9"/>
<circle cx="192.00" cy="423.20" r="1.55" fill="#d9a08e" stroke="#b92f3b" stroke-width="0.9"/>
<circle cx="194.80" cy="425.30" r="1.55" fill="#d9a08e" stroke="#b92f3b" stroke-width="0.9"/>
<circle cx="197.30" cy="425.30" r="1.55" fill="#d9a08e" stroke="#b92f3b" stroke-width="0.9"/>
<line x1="189.50" y1="418.60" x2="199.60" y2="418.60" stroke="#231f20" stroke-width="1.3"/>
<circle cx="209.80" cy="406.50" r="1.55" fill="#a2b1d8" stroke="#42599f" stroke-width="0.9"/>
<circle cx="209.80" cy="411.40" r="1.55" fill="#a2b1d8" stroke="#42599f" stroke-width="0.9"/>
<circle cx="210.80" cy="414.40" r="1.55" fill="#a2b1d8" stroke="#42599f" stroke-width="0.9"/>
<circle cx="207.30" cy="416.70" r="1.55" fill="#a2b1d8" stroke="#42599f" stroke-width="0.9"/>
<circle cx="212.20" cy="416.70" r="1.55" fill="#a2b1d8" stroke="#42599f" stroke-width="0.9"/>
<circle cx="208.00" cy="421.10" r="1.55" fill="#a2b1d8" stroke="#42599f" stroke-width="0.9"/>
<circle cx="211.50" cy="421.40" r="1.55" fill="#a2b1d8" stroke="#42599f" stroke-width="0.9"/>
<circle cx="208.70" cy="424.60" r="1.55" fill="#a2b1d8" stroke="#42599f" stroke-width="0.9"/>
<circle cx="212.90" cy="425.30" r="1.55" fill="#a2b1d8" stroke="#42599f" stroke-width="0.9"/>
<circle cx="210.00" cy="426.00" r="1.55" fill="#a2b1d8" stroke="#42599f" stroke-width="0.9"/>
<line x1="204.50" y1="418.60" x2="215.40" y2="418.60" stroke="#231f20" stroke-width="1.3"/>
<circle cx="225.20" cy="359.10" r="1.55" fill="#d9a08e" stroke="#b92f3b" stroke-width="0.9"/>
<circle cx="225.20" cy="365.10" r="1.55" fill="#d9a08e" stroke="#b92f3b" stroke-width="0.9"/>
<circle cx="222.40" cy="367.40" r="1.55" fill="#d9a08e" stroke="#b92f3b" stroke-width="0.9"/>
<circle cx="227.80" cy="370.90" r="1.55" fill="#d9a08e" stroke="#b92f3b" stroke-width="0.9"/>
<circle cx="219.90" cy="380.00" r="1.55" fill="#d9a08e" stroke="#b92f3b" stroke-width="0.9"/>
<circle cx="225.40" cy="380.40" r="1.55" fill="#d9a08e" stroke="#b92f3b" stroke-width="0.9"/>
<circle cx="225.40" cy="387.00" r="1.55" fill="#d9a08e" stroke="#b92f3b" stroke-width="0.9"/>
<circle cx="219.90" cy="391.80" r="1.55" fill="#d9a08e" stroke="#b92f3b" stroke-width="0.9"/>
<circle cx="225.40" cy="391.10" r="1.55" fill="#d9a08e" stroke="#b92f3b" stroke-width="0.9"/>
<circle cx="225.40" cy="395.30" r="1.55" fill="#d9a08e" stroke="#b92f3b" stroke-width="0.9"/>
<circle cx="225.40" cy="397.80" r="1.55" fill="#d9a08e" stroke="#b92f3b" stroke-width="0.9"/>
<circle cx="219.90" cy="400.90" r="1.55" fill="#d9a08e" stroke="#b92f3b" stroke-width="0.9"/>
<circle cx="222.90" cy="402.30" r="1.55" fill="#d9a08e" stroke="#b92f3b" stroke-width="0.9"/>
<circle cx="227.80" cy="402.00" r="1.55" fill="#d9a08e" stroke="#b92f3b" stroke-width="0.9"/>
<line x1="219.80" y1="385.10" x2="230.80" y2="385.10" stroke="#231f20" stroke-width="1.3"/>
<line x1="225.30" y1="380.70" x2="225.30" y2="389.00" stroke="#231f20" stroke-width="0.9"/>
<line x1="222.50" y1="380.70" x2="228.10" y2="380.70" stroke="#231f20" stroke-width="0.9"/>
<line x1="222.50" y1="389.00" x2="228.10" y2="389.00" stroke="#231f20" stroke-width="0.9"/>
<circle cx="237.70" cy="387.00" r="1.55" fill="#a2b1d8" stroke="#42599f" stroke-width="0.9"/>
<circle cx="243.30" cy="387.00" r="1.55" fill="#a2b1d8" stroke="#42599f" stroke-width="0.9"/>
<circle cx="240.50" cy="390.90" r="1.55" fill="#a2b1d8" stroke="#42599f" stroke-width="0.9"/>
<circle cx="238.70" cy="394.40" r="1.55" fill="#a2b1d8" stroke="#42599f" stroke-width="0.9"/>
<circle cx="242.20" cy="394.40" r="1.55" fill="#a2b1d8" stroke="#42599f" stroke-width="0.9"/>
<circle cx="240.50" cy="396.40" r="1.55" fill="#a2b1d8" stroke="#42599f" stroke-width="0.9"/>
<circle cx="238.70" cy="399.10" r="1.55" fill="#a2b1d8" stroke="#42599f" stroke-width="0.9"/>
<circle cx="242.20" cy="399.10" r="1.55" fill="#a2b1d8" stroke="#42599f" stroke-width="0.9"/>
<circle cx="240.50" cy="405.80" r="1.55" fill="#a2b1d8" stroke="#42599f" stroke-width="0.9"/>
<circle cx="243.30" cy="408.60" r="1.55" fill="#a2b1d8" stroke="#42599f" stroke-width="0.9"/>
<circle cx="238.00" cy="413.50" r="1.55" fill="#a2b1d8" stroke="#42599f" stroke-width="0.9"/>
<line x1="235.10" y1="397.80" x2="246.10" y2="397.80" stroke="#231f20" stroke-width="1.3"/>
<line x1="240.60" y1="395.50" x2="240.60" y2="400.00" stroke="#231f20" stroke-width="0.9"/>
<line x1="238.20" y1="395.50" x2="243.00" y2="395.50" stroke="#231f20" stroke-width="0.9"/>
<line x1="238.20" y1="400.00" x2="243.00" y2="400.00" stroke="#231f20" stroke-width="0.9"/>
<text x="291.10" y="334.90" font-size="11.2" font-weight="bold" style="stroke-width:0.45px">G</text>
<line x1="322.50" y1="343.50" x2="322.50" y2="430.12" stroke="#231f20" stroke-width="1.25"/>
<line x1="319.30" y1="345.50" x2="322.50" y2="345.50" stroke="#231f20" stroke-width="1.25"/>
<text x="316.35" y="348.10" font-size="8.4" text-anchor="end" textLength="8.7" lengthAdjust="spacingAndGlyphs">25</text>
<line x1="319.30" y1="362.50" x2="322.50" y2="362.50" stroke="#231f20" stroke-width="1.25"/>
<text x="316.35" y="365.10" font-size="8.4" text-anchor="end" textLength="8.7" lengthAdjust="spacingAndGlyphs">20</text>
<line x1="319.30" y1="379.25" x2="322.50" y2="379.25" stroke="#231f20" stroke-width="1.25"/>
<text x="316.35" y="381.85" font-size="8.4" text-anchor="end" textLength="8.7" lengthAdjust="spacingAndGlyphs">15</text>
<line x1="319.30" y1="396.25" x2="322.50" y2="396.25" stroke="#231f20" stroke-width="1.25"/>
<text x="316.35" y="398.85" font-size="8.4" text-anchor="end" textLength="8.7" lengthAdjust="spacingAndGlyphs">10</text>
<line x1="319.30" y1="413.00" x2="322.50" y2="413.00" stroke="#231f20" stroke-width="1.25"/>
<text x="316.35" y="415.60" font-size="8.4" text-anchor="end" textLength="4.35" lengthAdjust="spacingAndGlyphs">5</text>
<line x1="319.30" y1="429.60" x2="322.50" y2="429.60" stroke="#231f20" stroke-width="1.25"/>
<text x="316.35" y="432.20" font-size="8.4" text-anchor="end" textLength="4.35" lengthAdjust="spacingAndGlyphs">0</text>
<line x1="322.50" y1="429.50" x2="362.50" y2="429.50" stroke="#231f20" stroke-width="1.25"/>
<line x1="332.50" y1="429.50" x2="332.50" y2="432.50" stroke="#231f20" stroke-width="1.25"/>
<line x1="352.50" y1="429.50" x2="352.50" y2="432.50" stroke="#231f20" stroke-width="1.25"/>
<text x="341.60" y="442.60" font-size="8.4" text-anchor="middle">B220<tspan dy="-3.0" font-size="5.6">+</tspan></text>
<text x="301.50" y="387.80" font-size="9.2" text-anchor="middle" textLength="43.0" lengthAdjust="spacingAndGlyphs" transform="rotate(-90 301.50 387.80)">Cells (× 10<tspan dy="-3.2" font-size="6">6</tspan><tspan dy="3.2">)</tspan></text>
<circle cx="332.50" cy="353.75" r="1.55" fill="#d9a08e" stroke="#b92f3b" stroke-width="0.9"/>
<circle cx="332.50" cy="363.00" r="1.55" fill="#d9a08e" stroke="#b92f3b" stroke-width="0.9"/>
<circle cx="332.50" cy="369.25" r="1.55" fill="#d9a08e" stroke="#b92f3b" stroke-width="0.9"/>
<circle cx="331.25" cy="375.50" r="1.55" fill="#d9a08e" stroke="#b92f3b" stroke-width="0.9"/>
<circle cx="330.00" cy="386.25" r="1.55" fill="#d9a08e" stroke="#b92f3b" stroke-width="0.9"/>
<circle cx="335.00" cy="390.00" r="1.55" fill="#d9a08e" stroke="#b92f3b" stroke-width="0.9"/>
<circle cx="330.00" cy="410.00" r="1.55" fill="#d9a08e" stroke="#b92f3b" stroke-width="0.9"/>
<line x1="326.30" y1="379.25" x2="338.70" y2="379.25" stroke="#231f20" stroke-width="1.3"/>
<line x1="332.50" y1="373.00" x2="332.50" y2="385.50" stroke="#231f20" stroke-width="0.9"/>
<line x1="329.30" y1="373.00" x2="335.70" y2="373.00" stroke="#231f20" stroke-width="0.9"/>
<line x1="329.30" y1="385.50" x2="335.70" y2="385.50" stroke="#231f20" stroke-width="0.9"/>
<circle cx="352.50" cy="358.25" r="1.55" fill="#a2b1d8" stroke="#42599f" stroke-width="0.9"/>
<circle cx="349.50" cy="367.00" r="1.55" fill="#a2b1d8" stroke="#42599f" stroke-width="0.9"/>
<circle cx="355.00" cy="367.00" r="1.55" fill="#a2b1d8" stroke="#42599f" stroke-width="0.9"/>
<circle cx="350.00" cy="373.00" r="1.55" fill="#a2b1d8" stroke="#42599f" stroke-width="0.9"/>
<circle cx="355.00" cy="373.00" r="1.55" fill="#a2b1d8" stroke="#42599f" stroke-width="0.9"/>
<circle cx="351.25" cy="379.25" r="1.55" fill="#a2b1d8" stroke="#42599f" stroke-width="0.9"/>
<circle cx="349.50" cy="386.25" r="1.55" fill="#a2b1d8" stroke="#42599f" stroke-width="0.9"/>
<circle cx="355.00" cy="386.25" r="1.55" fill="#a2b1d8" stroke="#42599f" stroke-width="0.9"/>
<circle cx="352.00" cy="393.25" r="1.55" fill="#a2b1d8" stroke="#42599f" stroke-width="0.9"/>
<line x1="346.30" y1="376.75" x2="358.70" y2="376.75" stroke="#231f20" stroke-width="1.3"/>
<line x1="352.50" y1="373.00" x2="352.50" y2="380.75" stroke="#231f20" stroke-width="0.9"/>
<line x1="349.30" y1="373.00" x2="355.70" y2="373.00" stroke="#231f20" stroke-width="0.9"/>
<line x1="349.30" y1="380.75" x2="355.70" y2="380.75" stroke="#231f20" stroke-width="0.9"/>
<line x1="397.50" y1="343.50" x2="397.50" y2="430.12" stroke="#231f20" stroke-width="1.25"/>
<line x1="394.30" y1="345.50" x2="397.50" y2="345.50" stroke="#231f20" stroke-width="1.25"/>
<text x="391.35" y="348.10" font-size="8.4" text-anchor="end" textLength="8.7" lengthAdjust="spacingAndGlyphs">50</text>
<line x1="394.30" y1="362.50" x2="397.50" y2="362.50" stroke="#231f20" stroke-width="1.25"/>
<text x="391.35" y="365.10" font-size="8.4" text-anchor="end" textLength="8.7" lengthAdjust="spacingAndGlyphs">40</text>
<line x1="394.30" y1="379.25" x2="397.50" y2="379.25" stroke="#231f20" stroke-width="1.25"/>
<text x="391.35" y="381.85" font-size="8.4" text-anchor="end" textLength="8.7" lengthAdjust="spacingAndGlyphs">30</text>
<line x1="394.30" y1="396.25" x2="397.50" y2="396.25" stroke="#231f20" stroke-width="1.25"/>
<text x="391.35" y="398.85" font-size="8.4" text-anchor="end" textLength="8.7" lengthAdjust="spacingAndGlyphs">20</text>
<line x1="394.30" y1="413.00" x2="397.50" y2="413.00" stroke="#231f20" stroke-width="1.25"/>
<text x="391.35" y="415.60" font-size="8.4" text-anchor="end" textLength="8.7" lengthAdjust="spacingAndGlyphs">10</text>
<line x1="394.30" y1="429.60" x2="397.50" y2="429.60" stroke="#231f20" stroke-width="1.25"/>
<text x="391.35" y="432.20" font-size="8.4" text-anchor="end" textLength="4.35" lengthAdjust="spacingAndGlyphs">0</text>
<line x1="397.50" y1="429.50" x2="437.50" y2="429.50" stroke="#231f20" stroke-width="1.25"/>
<line x1="407.50" y1="429.50" x2="407.50" y2="432.50" stroke="#231f20" stroke-width="1.25"/>
<line x1="427.50" y1="429.50" x2="427.50" y2="432.50" stroke="#231f20" stroke-width="1.25"/>
<text x="417.60" y="442.60" font-size="8.4" text-anchor="middle">CD11b<tspan dy="-3.0" font-size="5.6">+</tspan></text>
<text x="376.50" y="387.80" font-size="9.2" text-anchor="middle" textLength="43.0" lengthAdjust="spacingAndGlyphs" transform="rotate(-90 376.50 387.80)">Cells (× 10<tspan dy="-3.2" font-size="6">6</tspan><tspan dy="3.2">)</tspan></text>
<path d="M407.50 354.35V351.75H428.75V354.35" fill="none" stroke="#231f20" stroke-width="1.1"/>
<path d="M418.12 346.70L418.12 349.40M419.29 347.38L416.96 348.73M419.29 348.73L416.96 347.38" stroke="#231f20" stroke-width="0.9" fill="none"/>
<circle cx="418.12" cy="348.05" r="0.85" fill="#231f20"/>
<circle cx="402.50" cy="361.10" r="1.55" fill="#d9a08e" stroke="#b92f3b" stroke-width="0.9"/>
<circle cx="407.50" cy="364.30" r="1.55" fill="#d9a08e" stroke="#b92f3b" stroke-width="0.9"/>
<circle cx="412.30" cy="364.30" r="1.55" fill="#d9a08e" stroke="#b92f3b" stroke-width="0.9"/>
<circle cx="402.40" cy="368.70" r="1.55" fill="#d9a08e" stroke="#b92f3b" stroke-width="0.9"/>
<circle cx="407.10" cy="368.70" r="1.55" fill="#d9a08e" stroke="#b92f3b" stroke-width="0.9"/>
<circle cx="410.10" cy="372.10" r="1.55" fill="#d9a08e" stroke="#b92f3b" stroke-width="0.9"/>
<circle cx="405.00" cy="377.10" r="1.55" fill="#d9a08e" stroke="#b92f3b" stroke-width="0.9"/>
<line x1="401.00" y1="368.00" x2="413.60" y2="368.00" stroke="#231f20" stroke-width="1.3"/>
<line x1="407.30" y1="366.50" x2="407.30" y2="369.50" stroke="#231f20" stroke-width="0.9"/>
<line x1="404.30" y1="366.50" x2="410.30" y2="366.50" stroke="#231f20" stroke-width="0.9"/>
<line x1="404.30" y1="369.50" x2="410.30" y2="369.50" stroke="#231f20" stroke-width="0.9"/>
<circle cx="422.50" cy="370.80" r="1.55" fill="#a2b1d8" stroke="#42599f" stroke-width="0.9"/>
<circle cx="427.40" cy="371.00" r="1.55" fill="#a2b1d8" stroke="#42599f" stroke-width="0.9"/>
<circle cx="432.40" cy="366.70" r="1.55" fill="#a2b1d8" stroke="#42599f" stroke-width="0.9"/>
<circle cx="422.50" cy="378.80" r="1.55" fill="#a2b1d8" stroke="#42599f" stroke-width="0.9"/>
<circle cx="432.40" cy="379.20" r="1.55" fill="#a2b1d8" stroke="#42599f" stroke-width="0.9"/>
<circle cx="427.40" cy="383.10" r="1.55" fill="#a2b1d8" stroke="#42599f" stroke-width="0.9"/>
<circle cx="427.40" cy="389.60" r="1.55" fill="#a2b1d8" stroke="#42599f" stroke-width="0.9"/>
<circle cx="427.40" cy="395.20" r="1.55" fill="#a2b1d8" stroke="#42599f" stroke-width="0.9"/>
<line x1="420.80" y1="379.20" x2="434.20" y2="379.20" stroke="#231f20" stroke-width="1.3"/>
<line x1="427.50" y1="375.60" x2="427.50" y2="382.50" stroke="#231f20" stroke-width="0.9"/>
<line x1="424.50" y1="375.60" x2="430.50" y2="375.60" stroke="#231f20" stroke-width="0.9"/>
<line x1="424.50" y1="382.50" x2="430.50" y2="382.50" stroke="#231f20" stroke-width="0.9"/>
<line x1="472.50" y1="343.50" x2="472.50" y2="430.12" stroke="#231f20" stroke-width="1.25"/>
<line x1="469.30" y1="345.50" x2="472.50" y2="345.50" stroke="#231f20" stroke-width="1.25"/>
<text x="466.35" y="348.10" font-size="8.4" text-anchor="end" textLength="8.7" lengthAdjust="spacingAndGlyphs">50</text>
<line x1="469.30" y1="362.50" x2="472.50" y2="362.50" stroke="#231f20" stroke-width="1.25"/>
<text x="466.35" y="365.10" font-size="8.4" text-anchor="end" textLength="8.7" lengthAdjust="spacingAndGlyphs">40</text>
<line x1="469.30" y1="379.25" x2="472.50" y2="379.25" stroke="#231f20" stroke-width="1.25"/>
<text x="466.35" y="381.85" font-size="8.4" text-anchor="end" textLength="8.7" lengthAdjust="spacingAndGlyphs">30</text>
<line x1="469.30" y1="396.25" x2="472.50" y2="396.25" stroke="#231f20" stroke-width="1.25"/>
<text x="466.35" y="398.85" font-size="8.4" text-anchor="end" textLength="8.7" lengthAdjust="spacingAndGlyphs">20</text>
<line x1="469.30" y1="413.00" x2="472.50" y2="413.00" stroke="#231f20" stroke-width="1.25"/>
<text x="466.35" y="415.60" font-size="8.4" text-anchor="end" textLength="8.7" lengthAdjust="spacingAndGlyphs">10</text>
<line x1="469.30" y1="429.60" x2="472.50" y2="429.60" stroke="#231f20" stroke-width="1.25"/>
<text x="466.35" y="432.20" font-size="8.4" text-anchor="end" textLength="4.35" lengthAdjust="spacingAndGlyphs">0</text>
<line x1="472.50" y1="429.50" x2="512.50" y2="429.50" stroke="#231f20" stroke-width="1.25"/>
<line x1="482.00" y1="429.50" x2="482.00" y2="432.50" stroke="#231f20" stroke-width="1.25"/>
<line x1="501.75" y1="429.50" x2="501.75" y2="432.50" stroke="#231f20" stroke-width="1.25"/>
<text x="492.60" y="442.60" font-size="8.4" text-anchor="middle">GR-1<tspan dy="-3.0" font-size="5.6">+</tspan></text>
<text x="452.00" y="387.80" font-size="9.2" text-anchor="middle" textLength="43.0" lengthAdjust="spacingAndGlyphs" transform="rotate(-90 452.00 387.80)">Cells (× 10<tspan dy="-3.2" font-size="6">6</tspan><tspan dy="3.2">)</tspan></text>
<path d="M482.5 357.6V355H503.25V357.6" fill="none" stroke="#231f20" stroke-width="0.9"/>
<text x="493.00" y="353.00" font-size="8.4" text-anchor="middle" textLength="32.5" lengthAdjust="spacingAndGlyphs">p=0.0813</text>
<circle cx="480.00" cy="363.25" r="1.55" fill="#d9a08e" stroke="#b92f3b" stroke-width="0.9"/>
<circle cx="485.00" cy="365.00" r="1.55" fill="#d9a08e" stroke="#b92f3b" stroke-width="0.9"/>
<circle cx="479.25" cy="368.75" r="1.55" fill="#d9a08e" stroke="#b92f3b" stroke-width="0.9"/>
<circle cx="485.75" cy="368.75" r="1.55" fill="#d9a08e" stroke="#b92f3b" stroke-width="0.9"/>
<circle cx="480.00" cy="378.25" r="1.55" fill="#d9a08e" stroke="#b92f3b" stroke-width="0.9"/>
<circle cx="484.50" cy="378.25" r="1.55" fill="#d9a08e" stroke="#b92f3b" stroke-width="0.9"/>
<circle cx="482.50" cy="387.00" r="1.55" fill="#d9a08e" stroke="#b92f3b" stroke-width="0.9"/>
<line x1="476.00" y1="371.75" x2="488.00" y2="371.75" stroke="#231f20" stroke-width="1.3"/>
<line x1="482.00" y1="369.25" x2="482.00" y2="374.25" stroke="#231f20" stroke-width="0.9"/>
<line x1="479.00" y1="369.25" x2="485.00" y2="369.25" stroke="#231f20" stroke-width="0.9"/>
<line x1="479.00" y1="374.25" x2="485.00" y2="374.25" stroke="#231f20" stroke-width="0.9"/>
<circle cx="500.00" cy="364.50" r="1.55" fill="#a2b1d8" stroke="#42599f" stroke-width="0.9"/>
<circle cx="505.00" cy="368.00" r="1.55" fill="#a2b1d8" stroke="#42599f" stroke-width="0.9"/>
<circle cx="498.75" cy="377.00" r="1.55" fill="#a2b1d8" stroke="#42599f" stroke-width="0.9"/>
<circle cx="507.50" cy="380.50" r="1.55" fill="#a2b1d8" stroke="#42599f" stroke-width="0.9"/>
<circle cx="500.00" cy="387.00" r="1.55" fill="#a2b1d8" stroke="#42599f" stroke-width="0.9"/>
<circle cx="505.00" cy="390.50" r="1.55" fill="#a2b1d8" stroke="#42599f" stroke-width="0.9"/>
<circle cx="500.00" cy="394.25" r="1.55" fill="#a2b1d8" stroke="#42599f" stroke-width="0.9"/>
<circle cx="503.00" cy="380.50" r="1.55" fill="#a2b1d8" stroke="#42599f" stroke-width="0.9"/>
<line x1="495.75" y1="380.50" x2="507.75" y2="380.50" stroke="#231f20" stroke-width="1.3"/>
<line x1="501.75" y1="377.00" x2="501.75" y2="383.25" stroke="#231f20" stroke-width="0.9"/>
<line x1="498.75" y1="377.00" x2="504.75" y2="377.00" stroke="#231f20" stroke-width="0.9"/>
<line x1="498.75" y1="383.25" x2="504.75" y2="383.25" stroke="#231f20" stroke-width="0.9"/>
<text x="7.40" y="469.30" font-size="11.2" font-weight="bold" style="stroke-width:0.45px">H</text>
<line x1="38.50" y1="480.00" x2="38.50" y2="567.12" stroke="#231f20" stroke-width="1.25"/>
<line x1="35.30" y1="482.00" x2="38.50" y2="482.00" stroke="#231f20" stroke-width="1.25"/>
<text x="32.35" y="484.60" font-size="8.4" text-anchor="end" textLength="8.7" lengthAdjust="spacingAndGlyphs">20</text>
<line x1="35.30" y1="503.25" x2="38.50" y2="503.25" stroke="#231f20" stroke-width="1.25"/>
<text x="32.35" y="505.85" font-size="8.4" text-anchor="end" textLength="8.7" lengthAdjust="spacingAndGlyphs">15</text>
<line x1="35.30" y1="524.25" x2="38.50" y2="524.25" stroke="#231f20" stroke-width="1.25"/>
<text x="32.35" y="526.85" font-size="8.4" text-anchor="end" textLength="8.7" lengthAdjust="spacingAndGlyphs">10</text>
<line x1="35.30" y1="545.50" x2="38.50" y2="545.50" stroke="#231f20" stroke-width="1.25"/>
<text x="32.35" y="548.10" font-size="8.4" text-anchor="end" textLength="4.35" lengthAdjust="spacingAndGlyphs">5</text>
<line x1="35.30" y1="566.25" x2="38.50" y2="566.25" stroke="#231f20" stroke-width="1.25"/>
<text x="32.35" y="568.85" font-size="8.4" text-anchor="end" textLength="4.35" lengthAdjust="spacingAndGlyphs">0</text>
<line x1="38.50" y1="566.50" x2="78.75" y2="566.50" stroke="#231f20" stroke-width="1.25"/>
<line x1="48.00" y1="566.50" x2="48.00" y2="569.50" stroke="#231f20" stroke-width="1.25"/>
<line x1="68.75" y1="566.50" x2="68.75" y2="569.50" stroke="#231f20" stroke-width="1.25"/>
<text x="57.00" y="578.80" font-size="8.4" text-anchor="middle" textLength="14.0" lengthAdjust="spacingAndGlyphs">LSK</text>
<text x="18.20" y="524.20" font-size="9.2" text-anchor="middle" textLength="43.0" lengthAdjust="spacingAndGlyphs" transform="rotate(-90 18.20 524.20)">Cells (× 10<tspan dy="-3.2" font-size="6">4</tspan><tspan dy="3.2">)</tspan></text>
<path d="M48.75 485.10V482.50H74.50V485.10" fill="none" stroke="#231f20" stroke-width="1.1"/>
<path d="M59.83 477.45L59.83 480.15M60.99 478.12L58.66 479.48M60.99 479.48L58.66 478.12" stroke="#231f20" stroke-width="0.9" fill="none"/>
<circle cx="59.83" cy="478.80" r="0.85" fill="#231f20"/>
<path d="M63.42 477.45L63.42 480.15M64.59 478.12L62.26 479.48M64.59 479.48L62.26 478.12" stroke="#231f20" stroke-width="0.9" fill="none"/>
<circle cx="63.42" cy="478.80" r="0.85" fill="#231f20"/>
<circle cx="48.00" cy="489.50" r="1.55" fill="#d9a08e" stroke="#b92f3b" stroke-width="0.9"/>
<circle cx="47.50" cy="500.00" r="1.55" fill="#d9a08e" stroke="#b92f3b" stroke-width="0.9"/>
<circle cx="45.50" cy="507.00" r="1.55" fill="#d9a08e" stroke="#b92f3b" stroke-width="0.9"/>
<circle cx="51.25" cy="504.25" r="1.55" fill="#d9a08e" stroke="#b92f3b" stroke-width="0.9"/>
<line x1="41.80" y1="500.00" x2="54.20" y2="500.00" stroke="#231f20" stroke-width="1.3"/>
<line x1="48.00" y1="496.25" x2="48.00" y2="503.00" stroke="#231f20" stroke-width="0.9"/>
<line x1="45.00" y1="496.25" x2="51.00" y2="496.25" stroke="#231f20" stroke-width="0.9"/>
<line x1="45.00" y1="503.00" x2="51.00" y2="503.00" stroke="#231f20" stroke-width="0.9"/>
<circle cx="68.00" cy="511.75" r="1.55" fill="#a2b1d8" stroke="#42599f" stroke-width="0.9"/>
<circle cx="65.50" cy="520.50" r="1.55" fill="#a2b1d8" stroke="#42599f" stroke-width="0.9"/>
<circle cx="70.75" cy="515.00" r="1.55" fill="#a2b1d8" stroke="#42599f" stroke-width="0.9"/>
<circle cx="67.50" cy="516.25" r="1.55" fill="#a2b1d8" stroke="#42599f" stroke-width="0.9"/>
<line x1="61.80" y1="515.75" x2="74.20" y2="515.75" stroke="#231f20" stroke-width="1.3"/>
<line x1="68.00" y1="513.75" x2="68.00" y2="518.00" stroke="#231f20" stroke-width="0.9"/>
<line x1="65.00" y1="513.75" x2="71.00" y2="513.75" stroke="#231f20" stroke-width="0.9"/>
<line x1="65.00" y1="518.00" x2="71.00" y2="518.00" stroke="#231f20" stroke-width="0.9"/>
<line x1="128.50" y1="480.00" x2="128.50" y2="567.12" stroke="#231f20" stroke-width="1.25"/>
<line x1="125.30" y1="482.00" x2="128.50" y2="482.00" stroke="#231f20" stroke-width="1.25"/>
<text x="122.35" y="484.60" font-size="8.4" text-anchor="end" textLength="13.049999999999999" lengthAdjust="spacingAndGlyphs">150</text>
<line x1="125.30" y1="510.00" x2="128.50" y2="510.00" stroke="#231f20" stroke-width="1.25"/>
<text x="122.35" y="512.60" font-size="8.4" text-anchor="end" textLength="13.049999999999999" lengthAdjust="spacingAndGlyphs">100</text>
<line x1="125.30" y1="538.25" x2="128.50" y2="538.25" stroke="#231f20" stroke-width="1.25"/>
<text x="122.35" y="540.85" font-size="8.4" text-anchor="end" textLength="8.7" lengthAdjust="spacingAndGlyphs">50</text>
<line x1="125.30" y1="566.25" x2="128.50" y2="566.25" stroke="#231f20" stroke-width="1.25"/>
<text x="122.35" y="568.85" font-size="8.4" text-anchor="end" textLength="4.35" lengthAdjust="spacingAndGlyphs">0</text>
<line x1="128.50" y1="566.50" x2="262.50" y2="566.50" stroke="#231f20" stroke-width="1.25"/>
<line x1="138.25" y1="566.50" x2="138.25" y2="569.50" stroke="#231f20" stroke-width="1.25"/>
<line x1="157.00" y1="566.50" x2="157.00" y2="569.50" stroke="#231f20" stroke-width="1.25"/>
<line x1="171.25" y1="566.50" x2="171.25" y2="569.50" stroke="#231f20" stroke-width="1.25"/>
<line x1="188.25" y1="566.50" x2="188.25" y2="569.50" stroke="#231f20" stroke-width="1.25"/>
<line x1="203.75" y1="566.50" x2="203.75" y2="569.50" stroke="#231f20" stroke-width="1.25"/>
<line x1="222.00" y1="566.50" x2="222.00" y2="569.50" stroke="#231f20" stroke-width="1.25"/>
<line x1="237.50" y1="566.50" x2="237.50" y2="569.50" stroke="#231f20" stroke-width="1.25"/>
<line x1="253.75" y1="566.50" x2="253.75" y2="569.50" stroke="#231f20" stroke-width="1.25"/>
<text x="146.60" y="578.80" font-size="8.4" text-anchor="middle" textLength="15.8" lengthAdjust="spacingAndGlyphs">HSC</text>
<text x="178.75" y="578.80" font-size="8.4" text-anchor="middle" textLength="25.6" lengthAdjust="spacingAndGlyphs">ST-HSC</text>
<text x="212.50" y="578.80" font-size="8.4" text-anchor="middle" textLength="22.6" lengthAdjust="spacingAndGlyphs">HPC-2</text>
<text x="248.75" y="578.80" font-size="8.4" text-anchor="middle" textLength="16.6" lengthAdjust="spacingAndGlyphs">MPP</text>
<text x="105.00" y="523.20" font-size="9.2" text-anchor="middle" textLength="43.0" lengthAdjust="spacingAndGlyphs" transform="rotate(-90 105.00 523.20)">Cells (× 10<tspan dy="-3.2" font-size="6">3</tspan><tspan dy="3.2">)</tspan></text>
<circle cx="139.0" cy="488.0" r="2.45" fill="#d49a8c" stroke="#b92f3b" stroke-width="1.0"/>
<circle cx="139.0" cy="496.6" r="2.45" fill="#909fcf" stroke="#42599f" stroke-width="1.0"/>
<text x="145.20" y="490.80" font-size="8.4" textLength="38.5" lengthAdjust="spacingAndGlyphs"><tspan font-style="italic">Cd11c</tspan>-Cre<tspan dy="-3.0" font-size="5.5">−</tspan></text>
<text x="145.20" y="500.00" font-size="8.4" textLength="79" lengthAdjust="spacingAndGlyphs"><tspan font-style="italic">Myd88<tspan dy="-3.0" font-size="5.5">flox/flox</tspan><tspan dy="3.0">Cd11c</tspan></tspan>-Cre<tspan dy="-3.0" font-size="5.5">+</tspan></text>
<path d="M237.50 486.35V483.75H255.00V486.35" fill="none" stroke="#231f20" stroke-width="1.1"/>
<path d="M246.25 478.70L246.25 481.40M247.42 479.38L245.08 480.73M247.42 480.73L245.08 479.38" stroke="#231f20" stroke-width="0.9" fill="none"/>
<circle cx="246.25" cy="480.05" r="0.85" fill="#231f20"/>
<circle cx="136.00" cy="557.80" r="1.55" fill="#d9a08e" stroke="#b92f3b" stroke-width="0.9"/>
<circle cx="138.50" cy="557.00" r="1.55" fill="#d9a08e" stroke="#b92f3b" stroke-width="0.9"/>
<circle cx="141.00" cy="557.80" r="1.55" fill="#d9a08e" stroke="#b92f3b" stroke-width="0.9"/>
<line x1="133.00" y1="557.50" x2="143.50" y2="557.50" stroke="#231f20" stroke-width="1.3"/>
<circle cx="152.50" cy="558.25" r="1.55" fill="#a2b1d8" stroke="#42599f" stroke-width="0.9"/>
<circle cx="157.50" cy="556.25" r="1.55" fill="#a2b1d8" stroke="#42599f" stroke-width="0.9"/>
<circle cx="155.00" cy="557.50" r="1.55" fill="#a2b1d8" stroke="#42599f" stroke-width="0.9"/>
<line x1="150.50" y1="557.50" x2="161.00" y2="557.50" stroke="#231f20" stroke-width="1.3"/>
<circle cx="171.25" cy="549.50" r="1.55" fill="#d9a08e" stroke="#b92f3b" stroke-width="0.9"/>
<circle cx="168.00" cy="553.00" r="1.55" fill="#d9a08e" stroke="#b92f3b" stroke-width="0.9"/>
<circle cx="175.00" cy="553.00" r="1.55" fill="#d9a08e" stroke="#b92f3b" stroke-width="0.9"/>
<line x1="166.50" y1="552.00" x2="176.50" y2="552.00" stroke="#231f20" stroke-width="1.3"/>
<circle cx="188.00" cy="550.50" r="1.55" fill="#a2b1d8" stroke="#42599f" stroke-width="0.9"/>
<circle cx="185.00" cy="558.00" r="1.55" fill="#a2b1d8" stroke="#42599f" stroke-width="0.9"/>
<circle cx="189.50" cy="554.50" r="1.55" fill="#a2b1d8" stroke="#42599f" stroke-width="0.9"/>
<line x1="183.25" y1="554.50" x2="193.25" y2="554.50" stroke="#231f20" stroke-width="1.3"/>
<line x1="188.25" y1="552.00" x2="188.25" y2="557.00" stroke="#231f20" stroke-width="0.9"/>
<line x1="186.05" y1="552.00" x2="190.45" y2="552.00" stroke="#231f20" stroke-width="0.9"/>
<line x1="186.05" y1="557.00" x2="190.45" y2="557.00" stroke="#231f20" stroke-width="0.9"/>
<circle cx="204.50" cy="560.75" r="1.55" fill="#d9a08e" stroke="#b92f3b" stroke-width="0.9"/>
<circle cx="200.50" cy="562.50" r="1.55" fill="#d9a08e" stroke="#b92f3b" stroke-width="0.9"/>
<circle cx="203.00" cy="562.30" r="1.55" fill="#d9a08e" stroke="#b92f3b" stroke-width="0.9"/>
<line x1="199.00" y1="562.00" x2="209.00" y2="562.00" stroke="#231f20" stroke-width="1.3"/>
<circle cx="218.75" cy="563.75" r="1.55" fill="#a2b1d8" stroke="#42599f" stroke-width="0.9"/>
<circle cx="223.75" cy="564.25" r="1.55" fill="#a2b1d8" stroke="#42599f" stroke-width="0.9"/>
<circle cx="221.00" cy="563.90" r="1.55" fill="#a2b1d8" stroke="#42599f" stroke-width="0.9"/>
<line x1="216.50" y1="563.75" x2="226.50" y2="563.75" stroke="#231f20" stroke-width="1.3"/>
<circle cx="237.50" cy="490.75" r="1.55" fill="#d9a08e" stroke="#b92f3b" stroke-width="0.9"/>
<circle cx="235.00" cy="507.50" r="1.55" fill="#d9a08e" stroke="#b92f3b" stroke-width="0.9"/>
<circle cx="238.00" cy="508.75" r="1.55" fill="#d9a08e" stroke="#b92f3b" stroke-width="0.9"/>
<circle cx="240.00" cy="507.50" r="1.55" fill="#d9a08e" stroke="#b92f3b" stroke-width="0.9"/>
<line x1="232.50" y1="503.75" x2="242.50" y2="503.75" stroke="#231f20" stroke-width="1.3"/>
<line x1="237.50" y1="499.50" x2="237.50" y2="507.50" stroke="#231f20" stroke-width="0.9"/>
<line x1="234.90" y1="499.50" x2="240.10" y2="499.50" stroke="#231f20" stroke-width="0.9"/>
<line x1="234.90" y1="507.50" x2="240.10" y2="507.50" stroke="#231f20" stroke-width="0.9"/>
<circle cx="253.75" cy="515.50" r="1.55" fill="#a2b1d8" stroke="#42599f" stroke-width="0.9"/>
<circle cx="251.25" cy="524.50" r="1.55" fill="#a2b1d8" stroke="#42599f" stroke-width="0.9"/>
<circle cx="257.00" cy="522.00" r="1.55" fill="#a2b1d8" stroke="#42599f" stroke-width="0.9"/>
<line x1="248.75" y1="520.75" x2="258.75" y2="520.75" stroke="#231f20" stroke-width="1.3"/>
<line x1="253.75" y1="517.50" x2="253.75" y2="523.75" stroke="#231f20" stroke-width="0.9"/>
<line x1="251.15" y1="517.50" x2="256.35" y2="517.50" stroke="#231f20" stroke-width="0.9"/>
<line x1="251.15" y1="523.75" x2="256.35" y2="523.75" stroke="#231f20" stroke-width="0.9"/>
<rect x="291.6" y="461.6" width="2.2" height="7.9" fill="#231f20"/>
<line x1="322.50" y1="480.50" x2="322.50" y2="567.12" stroke="#231f20" stroke-width="1.25"/>
<line x1="319.30" y1="482.50" x2="322.50" y2="482.50" stroke="#231f20" stroke-width="1.25"/>
<text x="316.35" y="485.10" font-size="8.4" text-anchor="end" textLength="8.7" lengthAdjust="spacingAndGlyphs">20</text>
<line x1="319.30" y1="503.25" x2="322.50" y2="503.25" stroke="#231f20" stroke-width="1.25"/>
<text x="316.35" y="505.85" font-size="8.4" text-anchor="end" textLength="8.7" lengthAdjust="spacingAndGlyphs">15</text>
<line x1="319.30" y1="524.25" x2="322.50" y2="524.25" stroke="#231f20" stroke-width="1.25"/>
<text x="316.35" y="526.85" font-size="8.4" text-anchor="end" textLength="8.7" lengthAdjust="spacingAndGlyphs">10</text>
<line x1="319.30" y1="545.50" x2="322.50" y2="545.50" stroke="#231f20" stroke-width="1.25"/>
<text x="316.35" y="548.10" font-size="8.4" text-anchor="end" textLength="4.35" lengthAdjust="spacingAndGlyphs">5</text>
<line x1="319.30" y1="566.25" x2="322.50" y2="566.25" stroke="#231f20" stroke-width="1.25"/>
<text x="316.35" y="568.85" font-size="8.4" text-anchor="end" textLength="4.35" lengthAdjust="spacingAndGlyphs">0</text>
<line x1="322.50" y1="566.50" x2="362.50" y2="566.50" stroke="#231f20" stroke-width="1.25"/>
<line x1="332.50" y1="566.50" x2="332.50" y2="569.50" stroke="#231f20" stroke-width="1.25"/>
<line x1="352.50" y1="566.50" x2="352.50" y2="569.50" stroke="#231f20" stroke-width="1.25"/>
<text x="341.60" y="578.80" font-size="8.4" text-anchor="middle">B220<tspan dy="-3.0" font-size="5.6">+</tspan></text>
<text x="302.00" y="524.40" font-size="9.2" text-anchor="middle" textLength="43.0" lengthAdjust="spacingAndGlyphs" transform="rotate(-90 302.00 524.40)">Cells (× 10<tspan dy="-3.2" font-size="6">6</tspan><tspan dy="3.2">)</tspan></text>
<circle cx="327.50" cy="496.25" r="1.55" fill="#d9a08e" stroke="#b92f3b" stroke-width="0.9"/>
<circle cx="332.50" cy="498.75" r="1.55" fill="#d9a08e" stroke="#b92f3b" stroke-width="0.9"/>
<circle cx="337.50" cy="495.00" r="1.55" fill="#d9a08e" stroke="#b92f3b" stroke-width="0.9"/>
<circle cx="332.00" cy="503.75" r="1.55" fill="#d9a08e" stroke="#b92f3b" stroke-width="0.9"/>
<line x1="326.50" y1="498.75" x2="338.50" y2="498.75" stroke="#231f20" stroke-width="1.3"/>
<line x1="332.50" y1="496.50" x2="332.50" y2="501.00" stroke="#231f20" stroke-width="0.9"/>
<line x1="329.50" y1="496.50" x2="335.50" y2="496.50" stroke="#231f20" stroke-width="0.9"/>
<line x1="329.50" y1="501.00" x2="335.50" y2="501.00" stroke="#231f20" stroke-width="0.9"/>
<circle cx="347.50" cy="498.00" r="1.55" fill="#a2b1d8" stroke="#42599f" stroke-width="0.9"/>
<circle cx="352.50" cy="501.75" r="1.55" fill="#a2b1d8" stroke="#42599f" stroke-width="0.9"/>
<circle cx="357.50" cy="501.75" r="1.55" fill="#a2b1d8" stroke="#42599f" stroke-width="0.9"/>
<circle cx="350.00" cy="500.50" r="1.55" fill="#a2b1d8" stroke="#42599f" stroke-width="0.9"/>
<line x1="346.50" y1="500.00" x2="358.50" y2="500.00" stroke="#231f20" stroke-width="1.3"/>
<line x1="352.50" y1="498.80" x2="352.50" y2="501.30" stroke="#231f20" stroke-width="0.9"/>
<line x1="349.50" y1="498.80" x2="355.50" y2="498.80" stroke="#231f20" stroke-width="0.9"/>
<line x1="349.50" y1="501.30" x2="355.50" y2="501.30" stroke="#231f20" stroke-width="0.9"/>
<line x1="397.50" y1="480.50" x2="397.50" y2="567.12" stroke="#231f20" stroke-width="1.25"/>
<line x1="394.30" y1="482.50" x2="397.50" y2="482.50" stroke="#231f20" stroke-width="1.25"/>
<text x="391.35" y="485.10" font-size="8.4" text-anchor="end" textLength="8.7" lengthAdjust="spacingAndGlyphs">50</text>
<line x1="394.30" y1="499.25" x2="397.50" y2="499.25" stroke="#231f20" stroke-width="1.25"/>
<text x="391.35" y="501.85" font-size="8.4" text-anchor="end" textLength="8.7" lengthAdjust="spacingAndGlyphs">40</text>
<line x1="394.30" y1="515.75" x2="397.50" y2="515.75" stroke="#231f20" stroke-width="1.25"/>
<text x="391.35" y="518.35" font-size="8.4" text-anchor="end" textLength="8.7" lengthAdjust="spacingAndGlyphs">30</text>
<line x1="394.30" y1="532.50" x2="397.50" y2="532.50" stroke="#231f20" stroke-width="1.25"/>
<text x="391.35" y="535.10" font-size="8.4" text-anchor="end" textLength="8.7" lengthAdjust="spacingAndGlyphs">20</text>
<line x1="394.30" y1="549.50" x2="397.50" y2="549.50" stroke="#231f20" stroke-width="1.25"/>
<text x="391.35" y="552.10" font-size="8.4" text-anchor="end" textLength="8.7" lengthAdjust="spacingAndGlyphs">10</text>
<line x1="394.30" y1="566.25" x2="397.50" y2="566.25" stroke="#231f20" stroke-width="1.25"/>
<text x="391.35" y="568.85" font-size="8.4" text-anchor="end" textLength="4.35" lengthAdjust="spacingAndGlyphs">0</text>
<line x1="397.50" y1="566.50" x2="437.50" y2="566.50" stroke="#231f20" stroke-width="1.25"/>
<line x1="407.50" y1="566.50" x2="407.50" y2="569.50" stroke="#231f20" stroke-width="1.25"/>
<line x1="427.50" y1="566.50" x2="427.50" y2="569.50" stroke="#231f20" stroke-width="1.25"/>
<text x="417.60" y="578.80" font-size="8.4" text-anchor="middle">CD11b<tspan dy="-3.0" font-size="5.6">+</tspan></text>
<text x="377.00" y="524.40" font-size="9.2" text-anchor="middle" textLength="43.0" lengthAdjust="spacingAndGlyphs" transform="rotate(-90 377.00 524.40)">Cells (× 10<tspan dy="-3.2" font-size="6">6</tspan><tspan dy="3.2">)</tspan></text>
<path d="M408.00 490.10V487.50H428.75V490.10" fill="none" stroke="#231f20" stroke-width="1.1"/>
<path d="M418.38 482.45L418.38 485.15M419.54 483.12L417.21 484.48M419.54 484.48L417.21 483.12" stroke="#231f20" stroke-width="0.9" fill="none"/>
<circle cx="418.38" cy="483.80" r="0.85" fill="#231f20"/>
<circle cx="405.00" cy="501.25" r="1.55" fill="#d9a08e" stroke="#b92f3b" stroke-width="0.9"/>
<circle cx="410.00" cy="503.25" r="1.55" fill="#d9a08e" stroke="#b92f3b" stroke-width="0.9"/>
<circle cx="404.50" cy="508.75" r="1.55" fill="#d9a08e" stroke="#b92f3b" stroke-width="0.9"/>
<circle cx="410.00" cy="508.75" r="1.55" fill="#d9a08e" stroke="#b92f3b" stroke-width="0.9"/>
<line x1="401.50" y1="505.75" x2="413.50" y2="505.75" stroke="#231f20" stroke-width="1.3"/>
<line x1="407.50" y1="503.50" x2="407.50" y2="508.00" stroke="#231f20" stroke-width="0.9"/>
<line x1="404.50" y1="503.50" x2="410.50" y2="503.50" stroke="#231f20" stroke-width="0.9"/>
<line x1="404.50" y1="508.00" x2="410.50" y2="508.00" stroke="#231f20" stroke-width="0.9"/>
<circle cx="422.50" cy="510.50" r="1.55" fill="#a2b1d8" stroke="#42599f" stroke-width="0.9"/>
<circle cx="427.50" cy="515.50" r="1.55" fill="#a2b1d8" stroke="#42599f" stroke-width="0.9"/>
<circle cx="432.50" cy="513.00" r="1.55" fill="#a2b1d8" stroke="#42599f" stroke-width="0.9"/>
<circle cx="427.50" cy="513.00" r="1.55" fill="#a2b1d8" stroke="#42599f" stroke-width="0.9"/>
<line x1="421.50" y1="513.00" x2="433.50" y2="513.00" stroke="#231f20" stroke-width="1.3"/>
<line x1="427.50" y1="511.80" x2="427.50" y2="514.30" stroke="#231f20" stroke-width="0.9"/>
<line x1="424.50" y1="511.80" x2="430.50" y2="511.80" stroke="#231f20" stroke-width="0.9"/>
<line x1="424.50" y1="514.30" x2="430.50" y2="514.30" stroke="#231f20" stroke-width="0.9"/>
<line x1="472.50" y1="480.50" x2="472.50" y2="567.12" stroke="#231f20" stroke-width="1.25"/>
<line x1="469.30" y1="482.50" x2="472.50" y2="482.50" stroke="#231f20" stroke-width="1.25"/>
<text x="466.35" y="485.10" font-size="8.4" text-anchor="end" textLength="8.7" lengthAdjust="spacingAndGlyphs">50</text>
<line x1="469.30" y1="499.25" x2="472.50" y2="499.25" stroke="#231f20" stroke-width="1.25"/>
<text x="466.35" y="501.85" font-size="8.4" text-anchor="end" textLength="8.7" lengthAdjust="spacingAndGlyphs">40</text>
<line x1="469.30" y1="515.75" x2="472.50" y2="515.75" stroke="#231f20" stroke-width="1.25"/>
<text x="466.35" y="518.35" font-size="8.4" text-anchor="end" textLength="8.7" lengthAdjust="spacingAndGlyphs">30</text>
<line x1="469.30" y1="532.50" x2="472.50" y2="532.50" stroke="#231f20" stroke-width="1.25"/>
<text x="466.35" y="535.10" font-size="8.4" text-anchor="end" textLength="8.7" lengthAdjust="spacingAndGlyphs">20</text>
<line x1="469.30" y1="549.50" x2="472.50" y2="549.50" stroke="#231f20" stroke-width="1.25"/>
<text x="466.35" y="552.10" font-size="8.4" text-anchor="end" textLength="8.7" lengthAdjust="spacingAndGlyphs">10</text>
<line x1="469.30" y1="566.25" x2="472.50" y2="566.25" stroke="#231f20" stroke-width="1.25"/>
<text x="466.35" y="568.85" font-size="8.4" text-anchor="end" textLength="4.35" lengthAdjust="spacingAndGlyphs">0</text>
<line x1="472.50" y1="566.50" x2="512.50" y2="566.50" stroke="#231f20" stroke-width="1.25"/>
<line x1="482.00" y1="566.50" x2="482.00" y2="569.50" stroke="#231f20" stroke-width="1.25"/>
<line x1="502.00" y1="566.50" x2="502.00" y2="569.50" stroke="#231f20" stroke-width="1.25"/>
<text x="492.60" y="578.80" font-size="8.4" text-anchor="middle">GR-1<tspan dy="-3.0" font-size="5.6">+</tspan></text>
<text x="452.50" y="524.40" font-size="9.2" text-anchor="middle" textLength="43.0" lengthAdjust="spacingAndGlyphs" transform="rotate(-90 452.50 524.40)">Cells (× 10<tspan dy="-3.2" font-size="6">6</tspan><tspan dy="3.2">)</tspan></text>
<path d="M482.00 491.85V489.25H503.00V491.85" fill="none" stroke="#231f20" stroke-width="1.1"/>
<path d="M492.50 484.20L492.50 486.90M493.67 484.88L491.33 486.23M493.67 486.23L491.33 484.88" stroke="#231f20" stroke-width="0.9" fill="none"/>
<circle cx="492.50" cy="485.55" r="0.85" fill="#231f20"/>
<circle cx="480.00" cy="500.00" r="1.55" fill="#d9a08e" stroke="#b92f3b" stroke-width="0.9"/>
<circle cx="485.50" cy="501.75" r="1.55" fill="#d9a08e" stroke="#b92f3b" stroke-width="0.9"/>
<circle cx="480.50" cy="508.00" r="1.55" fill="#d9a08e" stroke="#b92f3b" stroke-width="0.9"/>
<circle cx="485.50" cy="508.00" r="1.55" fill="#d9a08e" stroke="#b92f3b" stroke-width="0.9"/>
<line x1="476.00" y1="504.25" x2="488.00" y2="504.25" stroke="#231f20" stroke-width="1.3"/>
<line x1="482.00" y1="502.00" x2="482.00" y2="506.50" stroke="#231f20" stroke-width="0.9"/>
<line x1="479.00" y1="502.00" x2="485.00" y2="502.00" stroke="#231f20" stroke-width="0.9"/>
<line x1="479.00" y1="506.50" x2="485.00" y2="506.50" stroke="#231f20" stroke-width="0.9"/>
<circle cx="497.50" cy="509.50" r="1.55" fill="#a2b1d8" stroke="#42599f" stroke-width="0.9"/>
<circle cx="503.00" cy="514.25" r="1.55" fill="#a2b1d8" stroke="#42599f" stroke-width="0.9"/>
<circle cx="507.50" cy="512.00" r="1.55" fill="#a2b1d8" stroke="#42599f" stroke-width="0.9"/>
<circle cx="502.00" cy="512.50" r="1.55" fill="#a2b1d8" stroke="#42599f" stroke-width="0.9"/>
<line x1="496.00" y1="512.00" x2="508.00" y2="512.00" stroke="#231f20" stroke-width="1.3"/>
<line x1="502.00" y1="510.80" x2="502.00" y2="513.30" stroke="#231f20" stroke-width="0.9"/>
<line x1="499.00" y1="510.80" x2="505.00" y2="510.80" stroke="#231f20" stroke-width="0.9"/>
<line x1="499.00" y1="513.30" x2="505.00" y2="513.30" stroke="#231f20" stroke-width="0.9"/>
</svg>
</body></html>
